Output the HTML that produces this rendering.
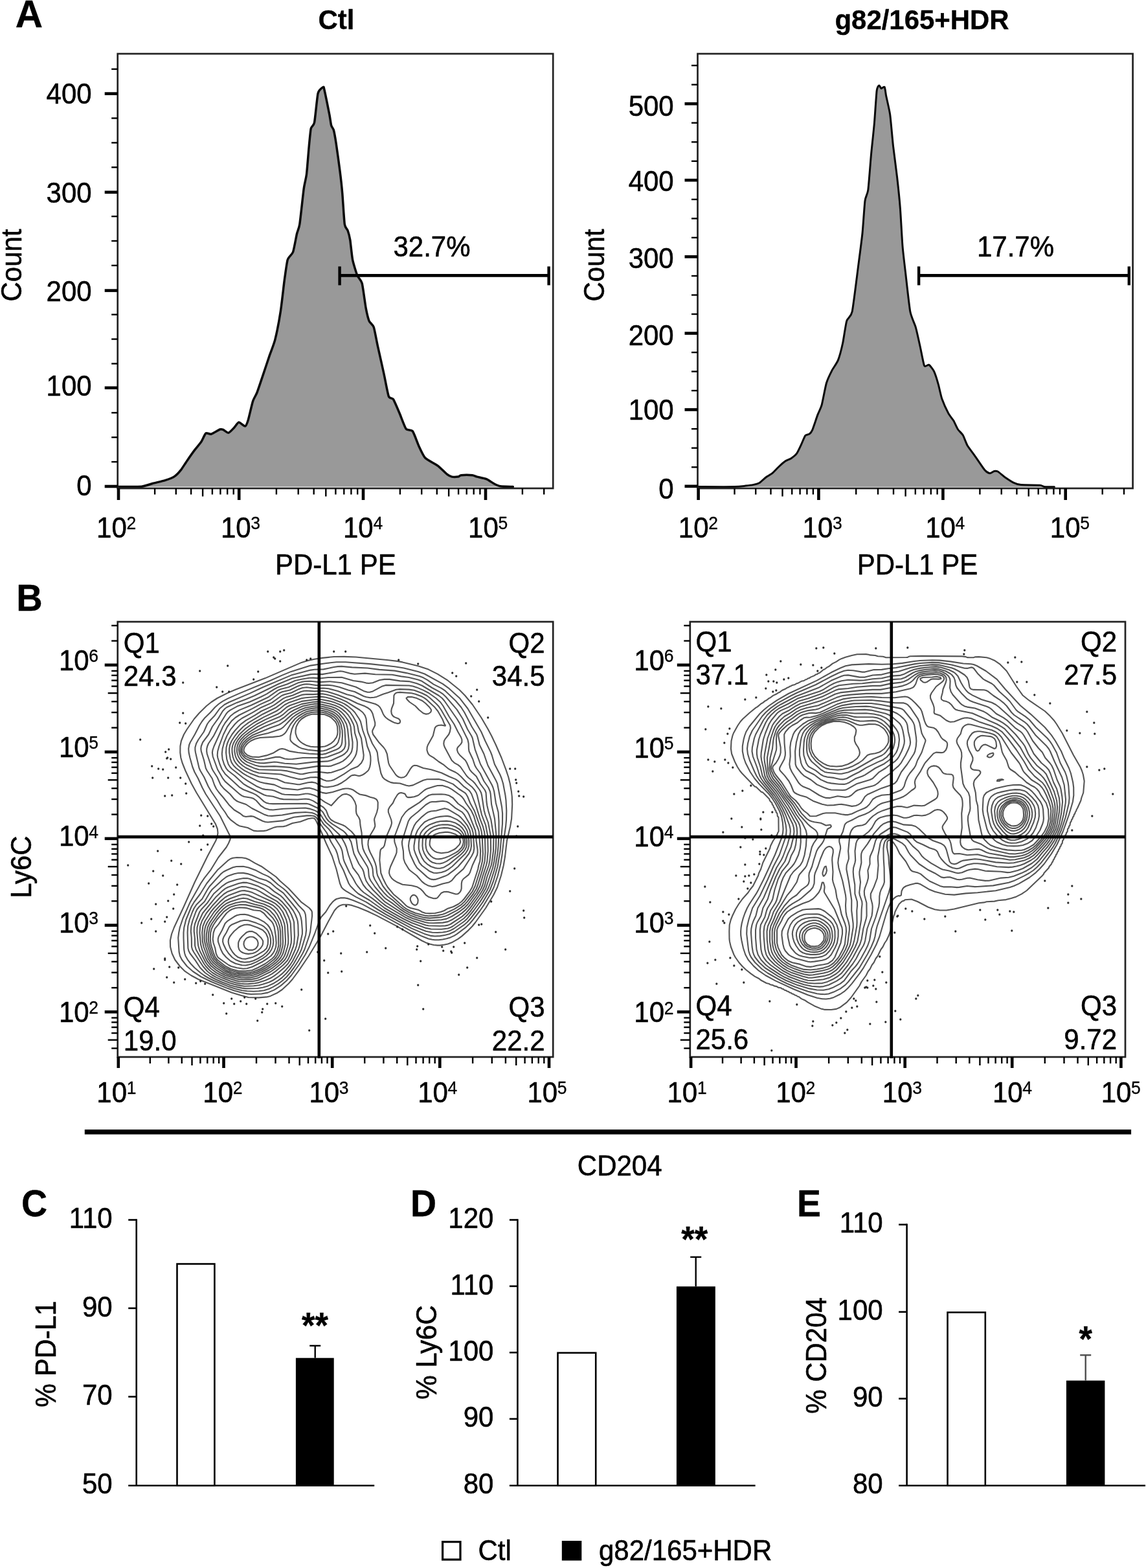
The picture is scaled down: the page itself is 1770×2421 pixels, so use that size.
<!DOCTYPE html>
<html lang="en">
<head>
<meta charset="utf-8">
<title>Figure</title>
<style>
html,body{margin:0;padding:0;background:#fff;}
body{width:1770px;height:2421px;overflow:hidden;}
svg{display:block;}
svg text{font-family:'Liberation Sans', Arial, Helvetica, sans-serif;fill:#000;stroke:#000;stroke-width:0.55px;stroke-linejoin:round;}
svg text[font-weight]{stroke-width:0.35px;}
svg tspan{stroke-width:0.3px;}
</style>
</head>
<body>
<svg width="1770" height="2421" viewBox="0 0 1770 2421">
<rect width="1770" height="2421" fill="#fff"/>
<text transform="translate(23.8 42.2) scale(1 1.0)" font-size="58.5" font-weight="bold">A</text>
<path d="M182 751.4 C185.7 751.4 213.2 751.7 218.6 751.2 C224 750.7 232 747.5 235.6 746.5 C239.2 745.5 251.6 742.7 255 741.6 C258.4 740.5 267.1 737.2 269.5 735.6 C271.9 734 277.3 728.3 279.2 725.9 C281.1 723.5 286.7 714.5 288.9 711.4 C291.1 708.2 298.8 697.3 301 694.4 C303.2 691.5 309 684.8 310.7 682.3 C312.4 679.8 316.3 670.2 317.9 669 C319.5 667.8 324.2 670.8 326.4 670.2 C328.6 669.6 337.9 663.7 339.7 663 C341.5 662.3 343.3 662.9 344.6 663.4 C345.9 663.9 351.3 668.6 353 668.3 C354.7 668 359.9 662.1 361.5 660.5 C363.1 658.9 367.1 652.3 368.8 652.1 C370.5 651.9 377.1 658.5 378.5 658.1 C379.9 657.7 382.1 652.3 383.3 648.4 C384.5 644.5 389.2 623.6 390.6 619.4 C392 615.2 395.4 610.1 397 606 C398.6 601.9 404.7 583.6 406.6 577.9 C408.5 572.2 414.5 554.2 416.3 548.9 C418.1 543.6 423.1 531.4 424.8 524.6 C426.5 517.8 431.9 490.2 433.3 481 C434.8 471.8 438.2 440.6 439.3 432.6 C440.4 424.6 442.9 405.6 444.2 401.2 C445.5 396.8 451.2 393 452.6 389 C454 385 457.5 365.3 458.5 361 C459.5 356.7 461.7 353.3 462.8 346.3 C463.9 339.3 468.2 298.4 469.3 290.7 C470.4 283 472.7 275.4 473.5 268.9 C474.3 262.4 476.6 232.3 477.3 225.3 C478 218.3 479.4 202.2 480.2 198.6 C481 195 484.5 194.4 485.6 189 C486.7 183.6 489.8 149.6 491.1 144.2 C492.5 138.8 498.1 135.1 499.1 134.5 C500.1 133.9 499.8 133.8 500.8 138 C501.8 142.2 507.7 171.3 508.8 176.9 C509.9 182.5 511 191.4 511.7 193.8 C512.4 196.2 514.7 198.3 515.4 201 C516.1 203.7 518 214.1 519 220.4 C520 226.7 524 256.2 525 264 C526 271.8 528 289.7 528.7 297.9 C529.4 306.1 531.5 340.5 532.3 346.3 C533.1 352.1 536.2 353.6 537.1 356 C538 358.4 540 366.1 540.8 370.6 C541.5 375.1 543.5 395.7 544.6 401.2 C545.7 406.7 550.4 421.8 551.9 425.4 C553.4 429 557.9 432.4 559.2 437.5 C560.5 442.6 564.1 470.4 565.2 476.2 C566.3 482 568.9 492.7 570.1 495.6 C571.3 498.5 576 501.4 577.3 505.3 C578.6 509.2 581.8 527 583.4 534.3 C585 541.6 591.4 570.1 593.1 577.9 C594.8 585.6 598.8 607.9 600.3 611.8 C601.8 615.7 605.9 614 607.6 616.7 C609.3 619.4 615.4 634 617.3 638.5 C619.2 643 625 659.3 627 662 C629 664.7 635.4 663.2 637.4 665.9 C639.4 668.6 645.1 684.8 647 688.9 C648.9 693 653.8 704 656.7 707 C659.6 710 672.7 716.6 676.1 719.1 C679.5 721.6 688.4 730.7 690.6 732.4 C692.8 734.1 696.2 735.7 697.9 736.1 C699.6 736.5 706.1 736.3 707.6 736.1 C709.1 735.9 710.2 733.9 712.4 733.7 C714.6 733.5 727 733.5 729.4 733.7 C731.8 733.9 734.4 735.5 736.6 736.1 C738.8 736.7 748.5 738.6 751.2 739.7 C753.9 740.8 761.1 745.9 763.3 747 C765.5 748.1 770.1 750.3 773 750.8 C775.9 751.3 790.4 751.5 792.3 751.6 Z" fill="#999" stroke="none"/><path d="M182 751.4 C185.7 751.4 213.2 751.7 218.6 751.2 C224 750.7 232 747.5 235.6 746.5 C239.2 745.5 251.6 742.7 255 741.6 C258.4 740.5 267.1 737.2 269.5 735.6 C271.9 734 277.3 728.3 279.2 725.9 C281.1 723.5 286.7 714.5 288.9 711.4 C291.1 708.2 298.8 697.3 301 694.4 C303.2 691.5 309 684.8 310.7 682.3 C312.4 679.8 316.3 670.2 317.9 669 C319.5 667.8 324.2 670.8 326.4 670.2 C328.6 669.6 337.9 663.7 339.7 663 C341.5 662.3 343.3 662.9 344.6 663.4 C345.9 663.9 351.3 668.6 353 668.3 C354.7 668 359.9 662.1 361.5 660.5 C363.1 658.9 367.1 652.3 368.8 652.1 C370.5 651.9 377.1 658.5 378.5 658.1 C379.9 657.7 382.1 652.3 383.3 648.4 C384.5 644.5 389.2 623.6 390.6 619.4 C392 615.2 395.4 610.1 397 606 C398.6 601.9 404.7 583.6 406.6 577.9 C408.5 572.2 414.5 554.2 416.3 548.9 C418.1 543.6 423.1 531.4 424.8 524.6 C426.5 517.8 431.9 490.2 433.3 481 C434.8 471.8 438.2 440.6 439.3 432.6 C440.4 424.6 442.9 405.6 444.2 401.2 C445.5 396.8 451.2 393 452.6 389 C454 385 457.5 365.3 458.5 361 C459.5 356.7 461.7 353.3 462.8 346.3 C463.9 339.3 468.2 298.4 469.3 290.7 C470.4 283 472.7 275.4 473.5 268.9 C474.3 262.4 476.6 232.3 477.3 225.3 C478 218.3 479.4 202.2 480.2 198.6 C481 195 484.5 194.4 485.6 189 C486.7 183.6 489.8 149.6 491.1 144.2 C492.5 138.8 498.1 135.1 499.1 134.5 C500.1 133.9 499.8 133.8 500.8 138 C501.8 142.2 507.7 171.3 508.8 176.9 C509.9 182.5 511 191.4 511.7 193.8 C512.4 196.2 514.7 198.3 515.4 201 C516.1 203.7 518 214.1 519 220.4 C520 226.7 524 256.2 525 264 C526 271.8 528 289.7 528.7 297.9 C529.4 306.1 531.5 340.5 532.3 346.3 C533.1 352.1 536.2 353.6 537.1 356 C538 358.4 540 366.1 540.8 370.6 C541.5 375.1 543.5 395.7 544.6 401.2 C545.7 406.7 550.4 421.8 551.9 425.4 C553.4 429 557.9 432.4 559.2 437.5 C560.5 442.6 564.1 470.4 565.2 476.2 C566.3 482 568.9 492.7 570.1 495.6 C571.3 498.5 576 501.4 577.3 505.3 C578.6 509.2 581.8 527 583.4 534.3 C585 541.6 591.4 570.1 593.1 577.9 C594.8 585.6 598.8 607.9 600.3 611.8 C601.8 615.7 605.9 614 607.6 616.7 C609.3 619.4 615.4 634 617.3 638.5 C619.2 643 625 659.3 627 662 C629 664.7 635.4 663.2 637.4 665.9 C639.4 668.6 645.1 684.8 647 688.9 C648.9 693 653.8 704 656.7 707 C659.6 710 672.7 716.6 676.1 719.1 C679.5 721.6 688.4 730.7 690.6 732.4 C692.8 734.1 696.2 735.7 697.9 736.1 C699.6 736.5 706.1 736.3 707.6 736.1 C709.1 735.9 710.2 733.9 712.4 733.7 C714.6 733.5 727 733.5 729.4 733.7 C731.8 733.9 734.4 735.5 736.6 736.1 C738.8 736.7 748.5 738.6 751.2 739.7 C753.9 740.8 761.1 745.9 763.3 747 C765.5 748.1 770.1 750.3 773 750.8 C775.9 751.3 790.4 751.5 792.3 751.6" fill="none" stroke="#0a0a0a" stroke-width="3.5" stroke-linejoin="round" stroke-linecap="round"/>
<rect x="181.7" y="83" width="672.5" height="671" fill="none" stroke="#222" stroke-width="2.7"/>
<line x1="161.7" y1="751" x2="181.7" y2="751" stroke="#000" stroke-width="4.6"/>
<line x1="161.7" y1="598.8" x2="181.7" y2="598.8" stroke="#000" stroke-width="4.6"/>
<line x1="161.7" y1="448.6" x2="181.7" y2="448.6" stroke="#000" stroke-width="4.6"/>
<line x1="161.7" y1="296.8" x2="181.7" y2="296.8" stroke="#000" stroke-width="4.6"/>
<line x1="161.7" y1="144.6" x2="181.7" y2="144.6" stroke="#000" stroke-width="4.6"/>
<line x1="172.2" y1="713.1" x2="181.7" y2="713.1" stroke="#000" stroke-width="2.4"/>
<line x1="172.2" y1="675.2" x2="181.7" y2="675.2" stroke="#000" stroke-width="2.4"/>
<line x1="172.2" y1="637.3" x2="181.7" y2="637.3" stroke="#000" stroke-width="2.4"/>
<line x1="172.2" y1="561.5" x2="181.7" y2="561.5" stroke="#000" stroke-width="2.4"/>
<line x1="172.2" y1="523.6" x2="181.7" y2="523.6" stroke="#000" stroke-width="2.4"/>
<line x1="172.2" y1="485.7" x2="181.7" y2="485.7" stroke="#000" stroke-width="2.4"/>
<line x1="172.2" y1="409.9" x2="181.7" y2="409.9" stroke="#000" stroke-width="2.4"/>
<line x1="172.2" y1="372" x2="181.7" y2="372" stroke="#000" stroke-width="2.4"/>
<line x1="172.2" y1="334.1" x2="181.7" y2="334.1" stroke="#000" stroke-width="2.4"/>
<line x1="172.2" y1="258.3" x2="181.7" y2="258.3" stroke="#000" stroke-width="2.4"/>
<line x1="172.2" y1="220.4" x2="181.7" y2="220.4" stroke="#000" stroke-width="2.4"/>
<line x1="172.2" y1="182.5" x2="181.7" y2="182.5" stroke="#000" stroke-width="2.4"/>
<line x1="172.2" y1="106.7" x2="181.7" y2="106.7" stroke="#000" stroke-width="2.4"/>
<text transform="translate(141.6 159.7) scale(1 1.042)" font-size="42" text-anchor="end">400</text>
<text transform="translate(141.6 312.7) scale(1 1.042)" font-size="42" text-anchor="end">300</text>
<text transform="translate(141.6 464.6) scale(1 1.042)" font-size="42" text-anchor="end">200</text>
<text transform="translate(141.6 610.9) scale(1 1.042)" font-size="42" text-anchor="end">100</text>
<text transform="translate(141.6 764.8) scale(1 1.042)" font-size="42" text-anchor="end">0</text>
<line x1="183" y1="754" x2="183" y2="772" stroke="#000" stroke-width="4.6"/>
<line x1="239.1" y1="754" x2="239.1" y2="763.5" stroke="#000" stroke-width="2.4"/>
<line x1="271.8" y1="754" x2="271.8" y2="763.5" stroke="#000" stroke-width="2.4"/>
<line x1="295.1" y1="754" x2="295.1" y2="763.5" stroke="#000" stroke-width="2.4"/>
<line x1="313.1" y1="754" x2="313.1" y2="766.5" stroke="#000" stroke-width="2.4"/>
<line x1="327.9" y1="754" x2="327.9" y2="763.5" stroke="#000" stroke-width="2.4"/>
<line x1="340.4" y1="754" x2="340.4" y2="763.5" stroke="#000" stroke-width="2.4"/>
<line x1="351.2" y1="754" x2="351.2" y2="763.5" stroke="#000" stroke-width="2.4"/>
<line x1="360.7" y1="754" x2="360.7" y2="763.5" stroke="#000" stroke-width="2.4"/>
<line x1="369.2" y1="754" x2="369.2" y2="772" stroke="#000" stroke-width="4.6"/>
<line x1="426.9" y1="754" x2="426.9" y2="763.5" stroke="#000" stroke-width="2.4"/>
<line x1="460.7" y1="754" x2="460.7" y2="763.5" stroke="#000" stroke-width="2.4"/>
<line x1="484.7" y1="754" x2="484.7" y2="763.5" stroke="#000" stroke-width="2.4"/>
<line x1="503.3" y1="754" x2="503.3" y2="766.5" stroke="#000" stroke-width="2.4"/>
<line x1="518.4" y1="754" x2="518.4" y2="763.5" stroke="#000" stroke-width="2.4"/>
<line x1="531.3" y1="754" x2="531.3" y2="763.5" stroke="#000" stroke-width="2.4"/>
<line x1="542.4" y1="754" x2="542.4" y2="763.5" stroke="#000" stroke-width="2.4"/>
<line x1="552.2" y1="754" x2="552.2" y2="763.5" stroke="#000" stroke-width="2.4"/>
<line x1="561" y1="754" x2="561" y2="772" stroke="#000" stroke-width="4.6"/>
<line x1="617.9" y1="754" x2="617.9" y2="763.5" stroke="#000" stroke-width="2.4"/>
<line x1="651.2" y1="754" x2="651.2" y2="763.5" stroke="#000" stroke-width="2.4"/>
<line x1="674.8" y1="754" x2="674.8" y2="763.5" stroke="#000" stroke-width="2.4"/>
<line x1="693.1" y1="754" x2="693.1" y2="766.5" stroke="#000" stroke-width="2.4"/>
<line x1="708.1" y1="754" x2="708.1" y2="763.5" stroke="#000" stroke-width="2.4"/>
<line x1="720.7" y1="754" x2="720.7" y2="763.5" stroke="#000" stroke-width="2.4"/>
<line x1="731.7" y1="754" x2="731.7" y2="763.5" stroke="#000" stroke-width="2.4"/>
<line x1="741.4" y1="754" x2="741.4" y2="763.5" stroke="#000" stroke-width="2.4"/>
<line x1="750" y1="754" x2="750" y2="772" stroke="#000" stroke-width="4.6"/>
<line x1="806.9" y1="754" x2="806.9" y2="763.5" stroke="#000" stroke-width="2.4"/>
<line x1="840.2" y1="754" x2="840.2" y2="763.5" stroke="#000" stroke-width="2.4"/>
<text transform="translate(149.1 830) scale(1 1.042)" font-size="42">10<tspan font-size="26.5" dy="-12.3" dx="-0.3">2</tspan></text>
<text transform="translate(340.9 830) scale(1 1.042)" font-size="42">10<tspan font-size="26.5" dy="-12.3" dx="-0.3">3</tspan></text>
<text transform="translate(530 830) scale(1 1.042)" font-size="42">10<tspan font-size="26.5" dy="-12.3" dx="-0.3">4</tspan></text>
<text transform="translate(723.1 830) scale(1 1.042)" font-size="42">10<tspan font-size="26.5" dy="-12.3" dx="-0.3">5</tspan></text>
<text transform="translate(519.5 44.9) scale(1 1.01)" font-size="41.9" text-anchor="middle" font-weight="bold">Ctl</text>
<text transform="translate(518.3 886.6) scale(1 1.042)" font-size="42" text-anchor="middle">PD-L1 PE</text>
<text transform="translate(33.3 409.5) rotate(-90) scale(1 1.042)" font-size="42" text-anchor="middle">Count</text>
<line x1="524.6" y1="425.4" x2="847.6" y2="425.4" stroke="#000" stroke-width="4.6"/>
<line x1="524.6" y1="411.4" x2="524.6" y2="440.4" stroke="#000" stroke-width="4.4"/>
<line x1="847.6" y1="411.4" x2="847.6" y2="440.4" stroke="#000" stroke-width="4.4"/>
<text transform="translate(667 396.3) scale(1 1.042)" font-size="42" text-anchor="middle">32.7%</text>
<path d="M1078 751.6 C1083.7 751.6 1127.3 751.8 1134.7 751.6 C1142.1 751.5 1148.8 750.4 1151.7 750.1 C1154.6 749.8 1161.6 748.9 1163.8 748.4 C1166 747.9 1171.6 746.4 1173.5 745.2 C1175.4 744 1181.3 738.2 1183.2 736.8 C1185.1 735.3 1191 732.3 1192.9 730.7 C1194.8 729.1 1200.6 722.8 1202.5 721 C1204.4 719.2 1210.3 713.8 1212.2 712.5 C1214.1 711.2 1220.1 708.9 1221.9 707.7 C1223.7 706.5 1228.8 702.6 1230.4 700.4 C1232 698.2 1236.4 688.7 1237.7 685.9 C1239 683.1 1242.5 674.2 1243.7 672.6 C1244.9 671 1248.7 671.1 1249.8 670.2 C1250.9 669.4 1253.3 667.1 1254.6 664.1 C1255.9 661.1 1261.6 643.8 1263.1 639.9 C1264.5 636 1267.8 630.2 1269.1 625.4 C1270.4 620.6 1274.8 596.8 1276.4 591.5 C1278 586.2 1283.1 575.6 1284.9 572.1 C1286.7 568.6 1292.7 560.4 1294.4 556.1 C1296.1 551.8 1300.4 535.5 1301.7 529.5 C1303 523.5 1306.2 500.5 1307.7 495.6 C1309.2 490.8 1314.4 489.7 1316.2 481 C1318 472.3 1324.3 420.5 1325.9 408.4 C1327.5 396.3 1331 369.8 1332 360 C1333 350.2 1335.1 316.7 1336 310 C1336.9 303.3 1339.8 300.4 1340.8 293.1 C1341.8 285.8 1344.6 247.8 1345.6 237.4 C1346.6 227 1349.7 198.7 1350.5 189 C1351.3 179.3 1353.4 146.2 1354.1 140.5 C1354.8 134.8 1357 132.4 1357.7 132 C1358.4 131.6 1360.2 136.2 1361 136.5 C1361.8 136.8 1365.4 133.4 1366.2 134.5 C1367 135.6 1367.8 143.6 1368.6 147.8 C1369.4 152 1373.6 169.2 1374.7 176.9 C1375.8 184.7 1378.4 215.6 1379.5 225.3 C1380.6 235 1384.5 264 1385.6 273.7 C1386.7 283.4 1389.6 311.5 1390.4 322.1 C1391.2 332.7 1393.2 370.2 1394 380 C1394.8 389.8 1397.3 410.4 1398.5 420.5 C1399.7 430.6 1404.2 472.5 1405.8 481 C1407.4 489.5 1412.7 499.7 1414.3 505.3 C1415.9 510.9 1420.2 530.8 1421.5 536.7 C1422.8 542.6 1426.3 561.9 1427.6 564.6 C1428.9 567.3 1433.4 562.5 1434.9 563.4 C1436.4 564.3 1441.2 570.4 1442.6 573.4 C1444 576.4 1448.1 589.3 1449.3 593.6 C1450.5 597.9 1453.3 611.5 1454.9 616 C1456.5 620.5 1463.1 635 1464.9 638.4 C1466.7 641.8 1471.3 647.1 1472.8 649.6 C1474.3 652.1 1478 660.8 1479.5 663 C1481 665.2 1485.8 669.5 1487.3 672 C1488.8 674.5 1492.3 684.6 1494.1 687.7 C1495.9 690.8 1502.6 699.5 1505.3 703.3 C1508 707.1 1518.6 723 1520.9 725.7 C1523.2 728.4 1527.3 730.5 1528.8 730.7 C1530.3 730.9 1534.3 727.8 1535.5 727.5 C1536.7 727.2 1539.4 727.1 1541.1 728 C1542.8 728.9 1549.8 735.2 1552.3 736.9 C1554.8 738.6 1563.2 744.2 1565.7 745.4 C1568.2 746.6 1572.9 748.2 1576.9 748.6 C1580.9 749 1602.4 748.9 1606 749.2 C1609.6 749.5 1610.6 751.1 1612.8 751.4 C1615 751.7 1626.8 751.8 1628.4 751.8 Z" fill="#999" stroke="none"/><path d="M1078 751.6 C1083.7 751.6 1127.3 751.8 1134.7 751.6 C1142.1 751.5 1148.8 750.4 1151.7 750.1 C1154.6 749.8 1161.6 748.9 1163.8 748.4 C1166 747.9 1171.6 746.4 1173.5 745.2 C1175.4 744 1181.3 738.2 1183.2 736.8 C1185.1 735.3 1191 732.3 1192.9 730.7 C1194.8 729.1 1200.6 722.8 1202.5 721 C1204.4 719.2 1210.3 713.8 1212.2 712.5 C1214.1 711.2 1220.1 708.9 1221.9 707.7 C1223.7 706.5 1228.8 702.6 1230.4 700.4 C1232 698.2 1236.4 688.7 1237.7 685.9 C1239 683.1 1242.5 674.2 1243.7 672.6 C1244.9 671 1248.7 671.1 1249.8 670.2 C1250.9 669.4 1253.3 667.1 1254.6 664.1 C1255.9 661.1 1261.6 643.8 1263.1 639.9 C1264.5 636 1267.8 630.2 1269.1 625.4 C1270.4 620.6 1274.8 596.8 1276.4 591.5 C1278 586.2 1283.1 575.6 1284.9 572.1 C1286.7 568.6 1292.7 560.4 1294.4 556.1 C1296.1 551.8 1300.4 535.5 1301.7 529.5 C1303 523.5 1306.2 500.5 1307.7 495.6 C1309.2 490.8 1314.4 489.7 1316.2 481 C1318 472.3 1324.3 420.5 1325.9 408.4 C1327.5 396.3 1331 369.8 1332 360 C1333 350.2 1335.1 316.7 1336 310 C1336.9 303.3 1339.8 300.4 1340.8 293.1 C1341.8 285.8 1344.6 247.8 1345.6 237.4 C1346.6 227 1349.7 198.7 1350.5 189 C1351.3 179.3 1353.4 146.2 1354.1 140.5 C1354.8 134.8 1357 132.4 1357.7 132 C1358.4 131.6 1360.2 136.2 1361 136.5 C1361.8 136.8 1365.4 133.4 1366.2 134.5 C1367 135.6 1367.8 143.6 1368.6 147.8 C1369.4 152 1373.6 169.2 1374.7 176.9 C1375.8 184.7 1378.4 215.6 1379.5 225.3 C1380.6 235 1384.5 264 1385.6 273.7 C1386.7 283.4 1389.6 311.5 1390.4 322.1 C1391.2 332.7 1393.2 370.2 1394 380 C1394.8 389.8 1397.3 410.4 1398.5 420.5 C1399.7 430.6 1404.2 472.5 1405.8 481 C1407.4 489.5 1412.7 499.7 1414.3 505.3 C1415.9 510.9 1420.2 530.8 1421.5 536.7 C1422.8 542.6 1426.3 561.9 1427.6 564.6 C1428.9 567.3 1433.4 562.5 1434.9 563.4 C1436.4 564.3 1441.2 570.4 1442.6 573.4 C1444 576.4 1448.1 589.3 1449.3 593.6 C1450.5 597.9 1453.3 611.5 1454.9 616 C1456.5 620.5 1463.1 635 1464.9 638.4 C1466.7 641.8 1471.3 647.1 1472.8 649.6 C1474.3 652.1 1478 660.8 1479.5 663 C1481 665.2 1485.8 669.5 1487.3 672 C1488.8 674.5 1492.3 684.6 1494.1 687.7 C1495.9 690.8 1502.6 699.5 1505.3 703.3 C1508 707.1 1518.6 723 1520.9 725.7 C1523.2 728.4 1527.3 730.5 1528.8 730.7 C1530.3 730.9 1534.3 727.8 1535.5 727.5 C1536.7 727.2 1539.4 727.1 1541.1 728 C1542.8 728.9 1549.8 735.2 1552.3 736.9 C1554.8 738.6 1563.2 744.2 1565.7 745.4 C1568.2 746.6 1572.9 748.2 1576.9 748.6 C1580.9 749 1602.4 748.9 1606 749.2 C1609.6 749.5 1610.6 751.1 1612.8 751.4 C1615 751.7 1626.8 751.8 1628.4 751.8" fill="none" stroke="#0a0a0a" stroke-width="3.0" stroke-linejoin="round" stroke-linecap="round"/>
<rect x="1077.5" y="83" width="672.1" height="671" fill="none" stroke="#222" stroke-width="2.7"/>
<line x1="1057.5" y1="750.8" x2="1077.5" y2="750.8" stroke="#000" stroke-width="4.6"/>
<line x1="1057.5" y1="632.5" x2="1077.5" y2="632.5" stroke="#000" stroke-width="4.6"/>
<line x1="1057.5" y1="514.6" x2="1077.5" y2="514.6" stroke="#000" stroke-width="4.6"/>
<line x1="1057.5" y1="396.4" x2="1077.5" y2="396.4" stroke="#000" stroke-width="4.6"/>
<line x1="1057.5" y1="278.2" x2="1077.5" y2="278.2" stroke="#000" stroke-width="4.6"/>
<line x1="1057.5" y1="160.2" x2="1077.5" y2="160.2" stroke="#000" stroke-width="4.6"/>
<line x1="1068" y1="721.3" x2="1077.5" y2="721.3" stroke="#000" stroke-width="2.4"/>
<line x1="1068" y1="691.7" x2="1077.5" y2="691.7" stroke="#000" stroke-width="2.4"/>
<line x1="1068" y1="662.2" x2="1077.5" y2="662.2" stroke="#000" stroke-width="2.4"/>
<line x1="1068" y1="603.1" x2="1077.5" y2="603.1" stroke="#000" stroke-width="2.4"/>
<line x1="1068" y1="573.6" x2="1077.5" y2="573.6" stroke="#000" stroke-width="2.4"/>
<line x1="1068" y1="544.1" x2="1077.5" y2="544.1" stroke="#000" stroke-width="2.4"/>
<line x1="1068" y1="485" x2="1077.5" y2="485" stroke="#000" stroke-width="2.4"/>
<line x1="1068" y1="455.5" x2="1077.5" y2="455.5" stroke="#000" stroke-width="2.4"/>
<line x1="1068" y1="426" x2="1077.5" y2="426" stroke="#000" stroke-width="2.4"/>
<line x1="1068" y1="366.9" x2="1077.5" y2="366.9" stroke="#000" stroke-width="2.4"/>
<line x1="1068" y1="337.4" x2="1077.5" y2="337.4" stroke="#000" stroke-width="2.4"/>
<line x1="1068" y1="307.9" x2="1077.5" y2="307.9" stroke="#000" stroke-width="2.4"/>
<line x1="1068" y1="248.8" x2="1077.5" y2="248.8" stroke="#000" stroke-width="2.4"/>
<line x1="1068" y1="219.3" x2="1077.5" y2="219.3" stroke="#000" stroke-width="2.4"/>
<line x1="1068" y1="189.7" x2="1077.5" y2="189.7" stroke="#000" stroke-width="2.4"/>
<line x1="1068" y1="130.7" x2="1077.5" y2="130.7" stroke="#000" stroke-width="2.4"/>
<line x1="1068" y1="101.1" x2="1077.5" y2="101.1" stroke="#000" stroke-width="2.4"/>
<text transform="translate(1040.7 179.3) scale(1 1.042)" font-size="42" text-anchor="end">500</text>
<text transform="translate(1040.7 295) scale(1 1.042)" font-size="42" text-anchor="end">400</text>
<text transform="translate(1040.7 413.6) scale(1 1.042)" font-size="42" text-anchor="end">300</text>
<text transform="translate(1040.7 533.2) scale(1 1.042)" font-size="42" text-anchor="end">200</text>
<text transform="translate(1040.7 648.2) scale(1 1.042)" font-size="42" text-anchor="end">100</text>
<text transform="translate(1040.7 770.4) scale(1 1.042)" font-size="42" text-anchor="end">0</text>
<line x1="1078.6" y1="754" x2="1078.6" y2="772" stroke="#000" stroke-width="4.6"/>
<line x1="1134.5" y1="754" x2="1134.5" y2="763.5" stroke="#000" stroke-width="2.4"/>
<line x1="1167.2" y1="754" x2="1167.2" y2="763.5" stroke="#000" stroke-width="2.4"/>
<line x1="1190.5" y1="754" x2="1190.5" y2="763.5" stroke="#000" stroke-width="2.4"/>
<line x1="1208.5" y1="754" x2="1208.5" y2="766.5" stroke="#000" stroke-width="2.4"/>
<line x1="1223.2" y1="754" x2="1223.2" y2="763.5" stroke="#000" stroke-width="2.4"/>
<line x1="1235.6" y1="754" x2="1235.6" y2="763.5" stroke="#000" stroke-width="2.4"/>
<line x1="1246.4" y1="754" x2="1246.4" y2="763.5" stroke="#000" stroke-width="2.4"/>
<line x1="1255.9" y1="754" x2="1255.9" y2="763.5" stroke="#000" stroke-width="2.4"/>
<line x1="1264.4" y1="754" x2="1264.4" y2="772" stroke="#000" stroke-width="4.6"/>
<line x1="1322.2" y1="754" x2="1322.2" y2="763.5" stroke="#000" stroke-width="2.4"/>
<line x1="1356" y1="754" x2="1356" y2="763.5" stroke="#000" stroke-width="2.4"/>
<line x1="1380" y1="754" x2="1380" y2="763.5" stroke="#000" stroke-width="2.4"/>
<line x1="1398.6" y1="754" x2="1398.6" y2="766.5" stroke="#000" stroke-width="2.4"/>
<line x1="1413.8" y1="754" x2="1413.8" y2="763.5" stroke="#000" stroke-width="2.4"/>
<line x1="1426.7" y1="754" x2="1426.7" y2="763.5" stroke="#000" stroke-width="2.4"/>
<line x1="1437.8" y1="754" x2="1437.8" y2="763.5" stroke="#000" stroke-width="2.4"/>
<line x1="1447.6" y1="754" x2="1447.6" y2="763.5" stroke="#000" stroke-width="2.4"/>
<line x1="1456.4" y1="754" x2="1456.4" y2="772" stroke="#000" stroke-width="4.6"/>
<line x1="1513.4" y1="754" x2="1513.4" y2="763.5" stroke="#000" stroke-width="2.4"/>
<line x1="1546.7" y1="754" x2="1546.7" y2="763.5" stroke="#000" stroke-width="2.4"/>
<line x1="1570.4" y1="754" x2="1570.4" y2="763.5" stroke="#000" stroke-width="2.4"/>
<line x1="1588.7" y1="754" x2="1588.7" y2="766.5" stroke="#000" stroke-width="2.4"/>
<line x1="1603.7" y1="754" x2="1603.7" y2="763.5" stroke="#000" stroke-width="2.4"/>
<line x1="1616.4" y1="754" x2="1616.4" y2="763.5" stroke="#000" stroke-width="2.4"/>
<line x1="1627.4" y1="754" x2="1627.4" y2="763.5" stroke="#000" stroke-width="2.4"/>
<line x1="1637" y1="754" x2="1637" y2="763.5" stroke="#000" stroke-width="2.4"/>
<line x1="1645.7" y1="754" x2="1645.7" y2="772" stroke="#000" stroke-width="4.6"/>
<line x1="1702.7" y1="754" x2="1702.7" y2="763.5" stroke="#000" stroke-width="2.4"/>
<line x1="1736" y1="754" x2="1736" y2="763.5" stroke="#000" stroke-width="2.4"/>
<text transform="translate(1047.8 830) scale(1 1.042)" font-size="42">10<tspan font-size="26.5" dy="-12.3" dx="-0.3">2</tspan></text>
<text transform="translate(1239.6 830) scale(1 1.042)" font-size="42">10<tspan font-size="26.5" dy="-12.3" dx="-0.3">3</tspan></text>
<text transform="translate(1429.2 830) scale(1 1.042)" font-size="42">10<tspan font-size="26.5" dy="-12.3" dx="-0.3">4</tspan></text>
<text transform="translate(1621.8 830) scale(1 1.042)" font-size="42">10<tspan font-size="26.5" dy="-12.3" dx="-0.3">5</tspan></text>
<text transform="translate(1424 44.9) scale(1 1.01)" font-size="41.9" text-anchor="middle" font-weight="bold">g82/165+HDR</text>
<text transform="translate(1417 886.6) scale(1 1.042)" font-size="42" text-anchor="middle">PD-L1 PE</text>
<text transform="translate(932.6 409.5) rotate(-90) scale(1 1.042)" font-size="42" text-anchor="middle">Count</text>
<line x1="1419.1" y1="425.4" x2="1743.8" y2="425.4" stroke="#000" stroke-width="4.6"/>
<line x1="1419.1" y1="411.4" x2="1419.1" y2="440.4" stroke="#000" stroke-width="4.4"/>
<line x1="1743.8" y1="411.4" x2="1743.8" y2="440.4" stroke="#000" stroke-width="4.4"/>
<text transform="translate(1568.5 396.3) scale(1 1.042)" font-size="42" text-anchor="middle">17.7%</text>
<path d="M515.8,1014L531.7,1013.9L549.7,1014.5L597.7,1019L613.7,1020.9L621.7,1022.4L645.7,1028.3L661.7,1033.6L675.7,1040.6L691.7,1050.7L709.7,1065.3L718.3,1074L729.8,1088L743.3,1108L753.8,1126L759.1,1136L765.8,1150L774.5,1170L781.7,1189.1L785.3,1200L787.8,1210L789.9,1222L790.8,1230L791.2,1242L790.1,1264L788.1,1276L782.9,1298L780.1,1322L777.8,1336L773.9,1352L768.1,1370L762.2,1382L750.2,1402L734.4,1424L729.6,1430L723.7,1436.1L713.7,1445.1L707.7,1449.7L697.7,1455.3L691.7,1457.4L685.7,1458.8L679.7,1459.6L675.7,1459.6L669.7,1459L663.7,1457.6L657.7,1455.4L651.7,1452.5L611.7,1429.4L581.7,1413.6L567.7,1407L553.7,1401.3L543.7,1397.9L537.7,1396.7L529.7,1396.8L525.7,1397.9L522.2,1400L519.7,1402.2L516.5,1406L507.5,1422L495,1446L476.8,1476L461.7,1498.4L451.7,1512L445.7,1518.7L435.7,1528L427.7,1533.3L417.7,1537.9L411.7,1539.4L399.7,1540.4L383.7,1540L371.7,1536.8L357.7,1532.4L306.2,1512L295.1,1506L285.7,1499.7L277.9,1492L270.3,1482L265.6,1472L263.1,1462L262.9,1452L265.1,1442L268.9,1432L283.8,1400L300.8,1362L320.5,1322L333.3,1298L335.6,1292L336.5,1286L335.9,1280L332.8,1272L303.5,1224L295.8,1210L286.4,1190L281.6,1178L279.3,1170L278.3,1162L278.4,1152L279.9,1144L284,1134L288.8,1126L299.9,1110L307.7,1101L318.9,1090L326.4,1084L335.6,1078L351.7,1069.9L363.7,1064.7L409.7,1047.1L465.7,1022.9L473.7,1020.4L485.7,1017.8L497.7,1015.9ZM504,1024L519.7,1022.3L533.7,1022.3L571.7,1025.1L609.7,1029.2L623.7,1031.5L645.7,1037L655.7,1040.5L683.7,1055.9L693.7,1063.2L709.7,1077.7L722.4,1094L743.3,1130L749.4,1144L757.7,1160.9L759.7,1166L763.9,1180L772.3,1196L774.7,1202L777.1,1210L780.5,1228L781.5,1236L782.3,1252L782,1266L781.1,1276L778.1,1296L775.5,1320L773.2,1334L768.8,1352L762.7,1370L757.8,1380L747.7,1396.8L741.4,1406L730.6,1420L725.5,1426L719.7,1431.6L705.7,1442.1L701.7,1444.6L695.7,1447.4L689.7,1449.2L683.7,1450.5L677.7,1451.2L671.7,1451.2L667.7,1450.8L661.7,1449.4L651.7,1445.6L635.7,1437.8L559.7,1396.1L545.7,1390.2L537.7,1387.4L531.7,1386.3L525.7,1386.4L519.7,1388L516.6,1390L513.7,1392.6L509.3,1398L503.2,1408L496,1416L493.1,1422L485.9,1442L477.7,1461.8L471.5,1474L461.5,1490L449.9,1506L442.8,1514L433.7,1521.9L423.7,1528.4L413.7,1532.6L403.7,1534.5L387.7,1535L381.7,1534.4L373.7,1532.8L361.7,1529.5L351.7,1526.1L326.8,1516L310.3,1508L298.1,1500L288.9,1492L281,1482L278,1476L276.6,1470L275.2,1448L276.2,1440L277.8,1432L282.5,1418L293.7,1392.9L310.1,1364L315.7,1355.6L325.7,1342.8L337.2,1324L349.7,1308L353,1302L355.5,1296L355.8,1294L354.9,1290L340,1260L317.7,1226L312.4,1216L306,1202L300.5,1192L297.3,1184L293.4,1170L291.6,1162L291.2,1156L292.2,1150L293.9,1146L300.9,1134L308.1,1120L311.9,1114L315.7,1109.1L324.9,1100L332.1,1092L337.7,1087L343.7,1082.9L351.7,1078.6L369.7,1070.6L417.7,1050.8L435.7,1042.6L449.7,1036.9L479.7,1027.6ZM515.7,1030L521.7,1029.1L527.7,1028.9L543.7,1030.4L567.7,1031.5L585.7,1033.9L609.7,1035.6L627.7,1039.1L647.7,1044.1L653.7,1046.3L659.7,1049.7L669.7,1056.6L681.7,1062.6L687.7,1066.7L703.7,1082L712.2,1092L717.3,1100L728.7,1122L736.2,1134L737.6,1138L740.6,1150L747.4,1164L753.6,1182L765.7,1204.4L768.2,1210L775.1,1246L776.1,1256L776,1272L772.5,1314L768.5,1338L762.2,1360L756.8,1374L745.7,1392.9L736.3,1406L726.9,1418L721.7,1423.8L717.7,1427.3L701.7,1438.5L693.7,1442.2L687.7,1443.8L679.7,1445.1L671.7,1445.5L665.7,1444.9L655.7,1441.9L635.7,1433.4L596.2,1412L583,1404L565.7,1392.9L549.7,1384.9L533.7,1375.3L529.7,1372.4L527.5,1370L525,1364L519.5,1342L513,1322L503.7,1302L496.1,1284L487.7,1266.4L485.7,1263.8L483.7,1263.2L481.7,1263.3L475.7,1264.3L463.7,1268.7L451.7,1271L441.7,1275.3L437.7,1276.1L427.7,1276.5L423.7,1277.4L411.7,1282.3L407.7,1282.9L397.7,1283.2L391.7,1282.6L382.6,1278L369.7,1275.2L365.7,1273L355.7,1265.3L351.7,1260.7L347.6,1254L341.7,1246L335.7,1236L326.2,1222L321.6,1214L315.3,1200L309.4,1190L307.6,1186L302,1162L301.4,1158L301.4,1154L303.1,1148L306.4,1142L314.8,1130L320.1,1118L322.9,1114L331.7,1104.7L339.4,1094L346.6,1088L353.7,1084.3L385.7,1070.6L405.7,1061.3L449.7,1042.6L479.7,1034.6L485.7,1033.8L499.7,1033.4ZM356,1326L359.7,1324.7L365.7,1324L373.7,1324.3L379.7,1325.3L385.7,1327.8L393.7,1332.6L403.7,1337.7L426.5,1354L432.3,1360L445.7,1371.8L465.7,1393.2L477.8,1402L481.1,1406L481.9,1408L482.1,1414L479.3,1438L477.9,1444L470.4,1466L467.5,1472L460.6,1484L454,1494L448,1502L442.9,1508L437.7,1513L429.7,1519.1L421.7,1523.9L415.7,1526.7L407.7,1529.2L399.7,1530.3L391.7,1530.7L381.7,1530.3L373.7,1529.2L363.7,1526.7L353.7,1523.6L330,1514L321.9,1510L315.2,1506L309.7,1502L300.3,1494L294.6,1488L289.7,1481.6L286.5,1476L285.2,1472L284.2,1466L283.5,1448L283.5,1440L284.3,1432L287.3,1420L295.6,1400L299.7,1393L309.4,1380L319.3,1364L335.7,1343.6L351.7,1328.9ZM515.8,1038L521.7,1036.7L525.7,1036.3L529.7,1036.8L541.7,1039.9L547.7,1040.7L563.7,1039.6L579.7,1041.2L605.7,1041.8L619.7,1044.4L631.7,1046L645.7,1049.6L651.7,1051.8L667.4,1062L679.7,1068.6L683.7,1071.3L688.7,1076L705.7,1095.6L714.8,1110L722.1,1126L728.1,1136L729.7,1139.5L733.7,1157.1L742.1,1180L759.8,1212L761.5,1216L763.2,1222L765.9,1240L769.6,1254L770.5,1268L770.5,1288L769.6,1306L768.5,1318L765.4,1336L763.3,1344L756.9,1364L754.7,1370L751.8,1376L741.7,1392.1L731.6,1406L721.7,1418.2L717.7,1422L713.7,1425L700.7,1434L695.7,1436.7L689.7,1438.5L683.7,1439.5L675.7,1440L667.7,1439.8L657.7,1437.7L637.7,1430L618.1,1420L591.7,1405L570.7,1390L553.5,1380L549,1376L541.2,1368L538.6,1364L530.6,1344L524.4,1332L520.9,1318L518.6,1312L511.3,1300L504.8,1286L495.7,1273.6L491.3,1266L488.3,1262L485.7,1260.3L483.7,1259.7L479.7,1259.2L473.7,1259.4L453.7,1261.8L437.7,1267.1L413.7,1269.5L409.7,1269L405.7,1267.8L391.7,1260.8L387.7,1260.1L379.7,1261L375.7,1259.9L370.9,1256L361.7,1250.5L353.7,1242.7L345.4,1232L337.7,1223L334.1,1218L331.2,1212L327.7,1202L319.8,1190L317.8,1186L315.1,1174L310.8,1160L310.3,1156L310.8,1152L313.2,1146L322.2,1134L327.9,1122L337.7,1108.4L343.9,1098L347.6,1094L350.4,1092L365.7,1084.9L379.7,1079.8L393.4,1074L429.7,1056.2L451.7,1047.2L479.7,1041.1L485.7,1040.7L497.7,1041.1ZM365.2,1338L375.7,1337.8L383.7,1339.6L395.7,1344.1L405.7,1349.4L413.7,1352.9L417.7,1355.4L429.6,1366L437.7,1372L442.2,1376L453,1388L461.2,1398L469.1,1406L470.4,1408L471.8,1412L472.4,1418L473.1,1436L472.1,1444L465.5,1466L462.7,1472L453.6,1488L447.7,1496.3L441.7,1503.5L435.7,1509.3L429.7,1513.8L421.7,1518.8L413.7,1522.4L405.7,1524.8L397.7,1526L379.7,1526.4L373.7,1525.6L363.7,1523.4L355.7,1521.2L343.7,1516.7L333,1512L325.3,1508L316.8,1502L309,1494L301.7,1482.9L293.4,1472L291.4,1468L290.4,1464L289.6,1440L290.2,1430L292.7,1420L297.1,1408L299.9,1402L303.7,1396.4L312.2,1388L320.1,1374L323.7,1368.5L341.7,1348.8L345.3,1346L349.7,1343.7L359.7,1339.3ZM506.8,1046L527.7,1045.8L545.7,1051L557.7,1052.6L565.7,1054.6L569.7,1055L575.7,1054.2L586.4,1050L593.7,1048.9L601.7,1048.9L617.7,1051.4L631.7,1052.1L643.7,1055.3L651.7,1058.5L677.7,1074L682.8,1078L686.3,1082L705.8,1110L709.7,1116.4L722.4,1142L723.7,1148L723.9,1156L724.5,1160L730.2,1172L733.5,1182L735.8,1186L741.7,1194L747.4,1206L754.3,1216L756.9,1222L757.7,1226L759.1,1242L764,1264L766.3,1288L765.9,1310L763.2,1330L761,1340L750.2,1372L743.1,1384L727.4,1406L721.7,1412.8L716.5,1418L699.5,1430L695.7,1432.1L691.7,1433.5L681.7,1434.8L665.7,1434.5L657.7,1432.9L635.7,1424.8L623.7,1419L607.6,1410L593.9,1402L575.7,1387.7L561.8,1378L557.4,1374L552.3,1368L549.5,1364L545.2,1356L539.7,1347.3L531.7,1330.3L530.4,1326L528.5,1314L527.1,1310L525.1,1306L511,1284L507.7,1280L499.7,1272.2L492.8,1262L489.7,1258.7L485.7,1256.3L481.7,1255L471.7,1254L455.7,1254.9L435.7,1258.5L419.7,1259.9L413.7,1259.5L407.7,1257.4L389,1248L380,1242L369.7,1238.6L365.7,1236.8L361.7,1233.7L355.2,1226L345.7,1217.6L340.9,1212L335.5,1200L329.1,1190L327.1,1186L319.8,1164L319.2,1160L319.3,1156L320.3,1152L322,1148L329.7,1136.7L338.3,1120L349.5,1102L351.7,1099.4L355.7,1096.4L367.7,1089.9L385.7,1083.7L403,1076L411.7,1071.6L423.8,1064L429.7,1060.9L443.7,1056.2L455.7,1051L465.7,1048.7L477.7,1046.8L483.7,1046.6L495.7,1047.2ZM367.8,1348L375.7,1347.9L383.7,1349.4L389.7,1351.5L399.7,1355.9L411.7,1359.6L417.7,1363L427.7,1371.7L437.7,1378.9L452,1396L458.4,1404L462.4,1410L464.6,1416L465.8,1422L466.9,1436L466.9,1442L462.8,1460L460.9,1466L459,1470L451.9,1484L448,1490L441.7,1497.4L435.7,1503.4L429.7,1508.2L421.7,1513.5L415.7,1516.5L405.7,1519.8L399.7,1521.3L391.7,1522.2L377.7,1522.7L371.7,1521.9L361.7,1519.8L353.7,1517.3L341.7,1512.5L333.7,1508.9L327.7,1505.5L320.5,1500L313.5,1492L299.2,1470L297.1,1466L296,1462L295.8,1448L294.8,1438L295.3,1430L297.3,1422L302.4,1408L304.4,1404L307.6,1400L315.9,1392L323.7,1378.7L327.7,1373.2L343.7,1358.5L349.5,1354L353.7,1351.9L361.7,1349.2ZM471.1,1052L479.7,1051.7L493.7,1053.1L509.7,1052.2L527.7,1054.3L549.7,1060.8L561.7,1066.9L567.7,1068.7L571.7,1068.6L575.7,1067.4L589.7,1059.8L595.7,1057.9L631.7,1058.5L637.7,1059.5L643.7,1061.4L653.7,1065.6L662.1,1070L673.4,1078L680.1,1084L684.4,1090L693.7,1106.5L701.3,1118L707.3,1130L711.9,1138L713.4,1142L713.4,1146L711.7,1148.9L706.9,1154L706.1,1156L706,1158L707.3,1162L710.2,1166L718.8,1174L721.1,1178L725.7,1188.6L728.5,1192L735.7,1198.8L741.7,1210.1L749,1220L750.6,1224L751.5,1238L752.4,1244L754.2,1252L758.4,1266L762.5,1292L762,1314L759.9,1330L758.7,1336L752.2,1354L748.4,1368L745.6,1374L740.6,1382L725.7,1402.8L719.7,1409.7L713.7,1415.1L695.7,1427L691.7,1428.6L687.7,1429.4L679.7,1429.8L661.7,1429.3L657.7,1428.4L643.7,1423.8L635.7,1420.9L625.7,1416.2L595.7,1398.4L587.6,1392L565.6,1372L560.9,1366L553.7,1351.1L545.2,1340L538.2,1320L534.9,1308L532.4,1302L528,1294L523.4,1288L512.8,1278L503.5,1270L500.3,1266L495.7,1258.7L491.7,1254.5L487.7,1252.1L483.7,1250.4L477.7,1248.6L471.7,1247.5L437.7,1248.7L421.7,1250.5L415.7,1250.1L409.7,1248.3L402.8,1244L395.7,1236L391.7,1233.1L387.7,1231.7L377.1,1230L373.7,1228.6L369.7,1225.8L347.7,1206.6L343.7,1201.3L336,1188L328.7,1168L327.9,1162L328.5,1158L330.6,1152L344.2,1122L347.8,1116L355.7,1105.8L361.7,1101L369.7,1096.4L387.7,1089L413.7,1076.8L429.7,1065.7L433.7,1064L445.7,1061L459.7,1054.6L465.7,1052.9ZM376.1,1356L381.7,1356.1L385.7,1357L409.7,1366.6L415.7,1369.9L423.7,1376.6L433.7,1383.2L437.7,1387.1L446.9,1398L452.9,1406L456.1,1412L458.5,1418L459.7,1422.2L460.4,1428L460.8,1444L458.1,1460L456.1,1466L449.8,1480L444.8,1488L439.7,1493.4L429.7,1502L423.7,1506.6L417.7,1510.3L409.7,1513.7L399.7,1517.1L393.7,1518.2L383.7,1519.1L377.7,1519.3L371.7,1518.7L363.7,1517.2L355.7,1514.8L343.7,1510.1L335.7,1506.4L328.4,1502L323.5,1498L318,1492L315.1,1488L302.7,1466L301.1,1460L301,1450L299.7,1438L299.9,1432L301.2,1426L308.3,1408L311.1,1404L319.7,1394.8L330.1,1380L343.7,1367.8L349.7,1363.6L353.7,1361.8L365.7,1358ZM463.9,1058L469.7,1056.6L473.7,1056.3L477.7,1056.5L489.7,1058.3L505.7,1057.7L513.7,1058.5L523.7,1060.8L537.7,1065.5L547.7,1068L561.7,1075L565.7,1076.3L571.7,1077.2L577.7,1076.8L581.7,1075.9L591.7,1071.8L599.7,1069.3L611.7,1064.7L617.7,1064.1L631.7,1064.6L639.7,1065.8L651.7,1070.2L659.2,1074L664.4,1078L673.7,1086.5L677.7,1090.8L681.3,1096L695.2,1120L695.9,1124L694.8,1130L693.1,1134L687.7,1140.8L685.9,1144L685.3,1148L685.7,1150.6L687,1154L697.7,1174.1L701.7,1177.8L707.7,1181.1L711.1,1184L720.8,1198L723.7,1201L730.1,1206L733.7,1209.8L741,1220L743.1,1224L744.1,1228L747.7,1251.5L749.5,1258L754,1270L757.8,1290L758.1,1312L756.6,1328L755,1336L749.7,1350.6L745.6,1366L743.1,1372L736.9,1382L725.3,1398L719.7,1404.4L713.7,1409.6L707.7,1413.8L697.7,1420.3L691.7,1423.1L683.7,1424.6L669.7,1425.2L661.7,1425L656.5,1424L637.7,1418.2L629.7,1414.7L623.7,1411.3L593.7,1391.8L576,1374L569.3,1366L565.5,1360L563.4,1354L561.6,1346L560,1342L554.4,1334L546.6,1318L542.3,1300L538,1292L533.4,1286L529.7,1282.6L513.7,1272.6L507.7,1268L504.4,1264L498.7,1254L494.5,1250L489.7,1247.2L481.7,1243.5L477.7,1241.8L473.7,1240.8L421.7,1241.1L415.7,1240.7L411.7,1239.8L407.7,1237.6L399.7,1230.3L395.7,1227.4L389.7,1224.4L375.7,1219L369.7,1215.3L347.7,1194.9L342.9,1188L339.5,1180L336.3,1170L335.7,1166L336.2,1160L338.4,1152L345.1,1134L351.1,1122L357.7,1113.1L363.5,1108L369.7,1104L389.7,1094.1L401.7,1087.6L417.7,1080.5L431.7,1070L435.7,1068.3L447.7,1065.5L458.8,1060ZM368.7,1364L375.7,1362.6L381.7,1362.9L387.7,1364.4L397.7,1367.9L407.7,1373L420.7,1382L429.7,1387.2L435.7,1392.4L445.6,1404L449.9,1412L453,1420L454.1,1424L454.9,1446L454.3,1456L452.8,1462L448.2,1474L445.7,1479.8L443.7,1483.2L437.3,1490L425.7,1499.6L419.7,1503.8L413.7,1507.1L401.7,1512.5L397.7,1513.8L391.7,1514.9L375.7,1515.8L369.7,1515.3L363.7,1514.1L347.7,1508.7L339.7,1505L333.7,1501.6L325.7,1495.5L320.6,1490L317.7,1486L308.5,1468L306.1,1460L304.3,1440L304.5,1432L306.5,1424L313,1410L333.7,1384.7L343.7,1375.3L347.7,1372.2L351.7,1370ZM467.1,1062L473.7,1061.2L485.7,1062.8L499.7,1062.5L507.7,1063.3L521.7,1067.1L535.7,1072.3L545.7,1074.8L559.7,1081.2L579.7,1087L583.7,1089.1L586.8,1092L589.1,1096L591.7,1102.2L593.7,1105.5L596,1108L599.7,1110.8L605.3,1114L609.7,1116.1L613.7,1117.1L615.7,1117L617.6,1116L618.2,1114L617.7,1112L615.7,1109.8L609.7,1107.4L607.5,1106L605.8,1104L604.8,1102L604.2,1098L604.9,1094L608,1086L608.4,1074L609.7,1071.5L611.5,1070L613.7,1069.2L617.7,1068.9L635.7,1070.2L641.7,1071.7L651.7,1075.6L655.7,1077.8L659.7,1080.9L671.7,1092.3L676.3,1098L683.7,1111.1L686.4,1118L687.9,1120L687.7,1120.8L681.7,1119.5L677,1120L673.7,1121.4L671.7,1124L668.8,1136L661,1150L659.7,1153.5L659.4,1158L660.6,1162L661.7,1164.2L663.7,1166.4L669.7,1169.9L677.6,1176L685.7,1181.2L691.7,1186.3L695.7,1188.8L703.7,1192.5L707.7,1195.2L711.7,1198.7L720.5,1208L729.7,1215.8L733.2,1220L735.6,1224L737,1228L744,1258L750.1,1274L753.2,1290L753.7,1314L752.4,1330L751,1336L745.8,1352L741.2,1368L736.1,1378L722.8,1396L717.7,1401.3L709,1408L697.7,1415L689.7,1418.6L681.7,1420.2L665.7,1421.2L657.7,1420.6L643.7,1416.9L633.7,1413.2L625.7,1408.9L618.3,1404L605.7,1394.3L595.7,1387.7L591.7,1383.9L579.6,1370L572.7,1360L570.7,1356L569.7,1352L568.9,1342L567.4,1338L555.1,1318L553.2,1314L552.2,1310L550.4,1296L548,1290L542.9,1284L533.7,1276.2L529.7,1274L517.7,1269.6L511.6,1266L509.7,1264L507.1,1260L503.7,1251.2L499.7,1246.6L483.7,1236.6L477.7,1234.1L471.7,1233.5L459.7,1234.5L437.7,1234.1L431.7,1233.1L421.7,1229.8L411.7,1228.5L407.7,1227.3L382,1214L375.7,1210.1L362.7,1198L352.4,1190L349.7,1186.9L346.1,1180L343.6,1172L342.8,1164L343.6,1156L346.3,1146L350.5,1136L355.7,1126.9L362.9,1118L367.7,1113.3L373.7,1109L389.7,1100.4L403.7,1092.2L419.7,1085.1L435.2,1074L439.7,1072.3L449.7,1069.7L461.7,1063.9ZM369.6,1370L373.7,1369L379.7,1369.2L395.7,1373.6L401.7,1376.6L413.8,1384L427.7,1391.6L434.9,1398L441.2,1406L445.8,1416L447.9,1422L448.8,1426L450,1450L449.7,1456L448.2,1462L444.2,1474L442.4,1478L439.9,1482L433.7,1488.3L423.7,1496.4L417.7,1500.5L399.7,1509.4L395.7,1510.8L389.7,1511.9L375.7,1512.6L369.7,1512.1L363.7,1511L347.7,1505.7L341.7,1502.8L334,1498L325.7,1491.1L320.1,1484L317.1,1478L312.1,1466L310,1458L308.4,1440L309.2,1430L311.9,1422L318.7,1410L327.7,1398.8L339.6,1386L345.7,1380.5L351.7,1376.7ZM464.9,1068L469.7,1066.8L473.7,1066.5L485.7,1067.4L497.7,1066.8L505.7,1068L521.7,1073L539.5,1080L551.7,1086L563.7,1090.6L567.7,1092.7L571.7,1095.7L573.6,1098L575.6,1102L579.3,1116L579.2,1120L575.3,1128L575.1,1130L576.2,1134L585.7,1146.8L592.5,1154L595.3,1158L597.8,1164L600.1,1178L601.6,1182L611.1,1196L613.7,1198.5L616.4,1200L619.7,1200.8L624,1200L627,1198L628.6,1196L633.7,1187.4L636.3,1184L637.7,1182.8L639.7,1181.9L643.7,1182L653.9,1186L665.7,1188.3L681.7,1193.2L693.7,1199L703.7,1203.1L707.7,1205.8L715.7,1213.8L724,1220L725.8,1222L728.3,1226L735.7,1246L741.7,1265.1L745.9,1276L748,1284L749,1292L749.6,1316L748.6,1330L744.9,1344L738.1,1366L735.8,1372L731,1380L721.7,1392.1L717.7,1396.6L711.7,1401.6L705.7,1405.6L691.7,1413L687.7,1414.6L681.7,1416.1L663.7,1417.6L655.7,1416.9L641.7,1413L631.7,1408.9L623.7,1404.2L618.2,1400L607.7,1390.7L598.6,1384L593.7,1379.1L586.1,1370L578.8,1358L576.4,1352L575.6,1342L574.6,1338L572.9,1334L563,1316L560.5,1310L559.2,1302L558.6,1286L556.5,1274L555.8,1266L554.1,1262L551.7,1258.7L550.5,1256L549.9,1252L550,1244L548.1,1238L544.5,1232L541.7,1229.1L539.7,1227.7L535.7,1226.1L532.9,1226L529.7,1226.7L527.3,1228L522.4,1232L511.7,1243.8L501.7,1238.4L489.6,1230L485.5,1228L479.7,1226.2L475.7,1225.5L471.7,1225.5L461.7,1227.2L457.7,1227.4L439.7,1226.7L435.7,1226L423.7,1220.7L419.7,1219.8L409.7,1218.9L405.7,1218.1L395.7,1213.7L381.7,1205.2L375.7,1201L357.7,1186.7L355.2,1184L352.7,1180L350.2,1172L349.1,1162L349.5,1154L351,1148L353.7,1141.7L358.3,1134L362.9,1128L371.7,1118.4L379.7,1112.3L393.7,1104.3L403.7,1098L417.7,1091.6L423.7,1088.4L437.7,1078.4L441.7,1076.6L451.7,1073.7ZM631.2,1076L635.7,1076.1L643.7,1078.1L651.7,1081.7L657.4,1086L663.4,1092L666.1,1096L665.7,1098.7L664.7,1100L661.9,1102L657.7,1102.6L653.7,1101.2L647.2,1096L641.5,1090L632.6,1084L628.7,1080L627.5,1078L629.7,1076.1ZM370.4,1376L373.7,1375.2L377.7,1375.1L383.7,1376.3L389.7,1378.1L419.7,1392L425.7,1395.4L431.7,1401.1L436.8,1408L442.1,1420L444,1428L445.3,1450L445.2,1456L444,1462L440.9,1472L439.3,1476L436.9,1480L433.5,1484L429,1488L421.7,1493.8L415.5,1498L397.7,1506.7L393.7,1508L387.7,1509.1L379.7,1509.6L371.7,1509.4L359.7,1507.1L351.7,1504.5L346,1502L333.7,1494.1L329.7,1490.8L325.7,1486.7L321.3,1480L314.6,1462L312.9,1454L312.2,1440L313.4,1430L316.7,1422L325.6,1408L330.5,1402L339.7,1392.4L347.7,1385.5L353.7,1382.2ZM473.7,1072L483.7,1072.1L497.7,1071.2L503.7,1072.2L513.7,1075.1L527.7,1080.1L535.7,1083.8L555.3,1096L560.3,1100L563.7,1104.7L565.6,1110L566.9,1126L568.3,1132L575,1148L581.2,1158L582.8,1162L584.2,1174L588.4,1194L591,1200L593.7,1202.8L599,1206L603.7,1208.1L607.7,1208.9L617.7,1209.5L627.7,1212.7L631.7,1213.5L637.7,1212.4L653.7,1204.8L659.7,1203.3L677.7,1203.1L685.7,1204.9L699.7,1210.6L708.6,1218L717.7,1223.8L719.7,1225.8L722.2,1230L726.2,1240L732.8,1252L742.1,1278L743.7,1284L744.7,1292L745.9,1318L744.9,1330L742,1342L733.8,1368L729.7,1376.3L717.7,1391.9L711.7,1397.4L701.7,1403.6L688.4,1410L683.7,1411.7L675.7,1413.4L669.7,1413.9L661.7,1414.2L655.7,1413.6L642.1,1410L633.7,1406.5L627.7,1403.4L623,1400L603.1,1382L597.4,1376L591.3,1368L583.2,1352L582.2,1348L581,1338L579.7,1333.2L576.8,1326L571.7,1316L569.4,1310L568.4,1304L568.8,1298L571.7,1289.8L577.5,1280L579.2,1276L579.3,1274L578.1,1266L578.3,1264L582.1,1254L583.5,1248L583.7,1238.9L582.7,1236L581.1,1234L577.7,1232.3L571.7,1230.7L565.7,1228.4L555.7,1226.5L551.7,1224.2L545.7,1219.8L541.7,1218.2L537.7,1217.5L533.7,1217.5L529.7,1218.1L513.7,1223L503.7,1224.9L497.7,1223.9L485.7,1218.7L477.7,1216.6L471.7,1216.9L459.7,1219.5L435.7,1217.1L423.7,1211.6L409.7,1209.4L401.7,1207.5L397.7,1205.9L381.7,1197.9L375.7,1194.3L364.7,1186L360.7,1182L357.7,1177.4L355.8,1172L354.2,1162L354.1,1156L355.2,1150L357.8,1144L363,1136L367.8,1130L375.7,1122L383.7,1115.8L405.7,1102.7L425.7,1092.8L437.7,1084.1L441.7,1081.7L453.7,1077.6L463.7,1073.7L467.7,1072.6ZM370.5,1382L373.7,1381.2L377.7,1381L383.7,1382.2L396.8,1388L413.7,1394L421.8,1398L427.7,1403.2L432.5,1410L437.2,1420L439.1,1426L439.9,1430L441,1452L440.7,1458L437.8,1470L436.2,1474L433.7,1478.5L430.9,1482L425.7,1486.9L417.7,1493L411.7,1496.8L403.7,1500.9L395.7,1504.3L391.7,1505.5L385.7,1506.5L371.7,1506.6L365.7,1505.8L357.7,1503.9L347.7,1500L335.7,1492L328.8,1486L324.5,1480L322.7,1476L318,1462L316.1,1454L315.6,1448L315.7,1440L316.5,1434L317.5,1430L320.2,1424L330.7,1408L339.7,1398.2L347.7,1391.2L355.7,1387.2ZM487.9,1076L495.7,1075.6L503.7,1076.8L513.7,1079.5L525.7,1083.9L531.7,1086.6L536.9,1090L544.3,1096L548.1,1100L554.8,1110L556.9,1114L560.4,1128L564.7,1140L567.2,1152L571.2,1162L572.3,1168L572.5,1174L572,1180L571.2,1184L569.7,1188L568.4,1190L563.8,1194L559.7,1196.6L555.7,1198L553.7,1198L547.7,1196.6L543.7,1197.1L541.7,1198.1L533.7,1204.7L527.7,1208.7L521.2,1212L514.7,1214L505.7,1215.4L499.7,1215.1L495.7,1213.6L487.7,1208.8L481.7,1207.6L475.7,1208.2L463.7,1211.1L459.7,1211.2L453.7,1210.2L439.7,1208.2L427.7,1203L399.7,1199.3L385.7,1193.9L377.7,1189.9L372.2,1186L367.5,1182L364,1178L361.6,1174L359.7,1168.5L358.6,1162L358.4,1156L359,1152L360.4,1148L362.4,1144L369.7,1134L379.7,1124.6L391.9,1116L407.7,1107.1L426.7,1098L431.7,1094.7L439.7,1088.3L445.7,1085.1L465.7,1078.2L471.7,1077.3ZM671.7,1214L675.7,1213L683.7,1212.9L691.7,1215.4L697.7,1218.7L710.8,1228L713.7,1230.6L716.3,1234L719.7,1240L727.7,1251.3L731.9,1260L735.4,1272L738.6,1280L739.7,1284L742.1,1314L741.7,1326.1L741.2,1330L739.3,1336L738.2,1342L729.2,1370L725.7,1376.1L716.7,1388L713,1392L707.8,1396L700.1,1400L691.7,1402.7L686.1,1406L680.8,1408L671.9,1410L663.7,1410.4L657.2,1410L651.3,1408L649.7,1406.6L645.7,1404.8L634.2,1402L629.6,1400L627.7,1398.7L619,1390L607.7,1380.7L598.9,1370L595.7,1364.8L591.4,1356L588.3,1348L586.3,1328L587.1,1316L587.8,1312L589.6,1310L591.7,1308.7L593.7,1305.5L596.6,1292L603.6,1276L604.8,1272L605,1270L604.3,1266L599.8,1254L599.8,1250L601.7,1246.2L606.8,1240L609.5,1234L613.7,1227.3L615.7,1225.3L617.7,1224.3L619.7,1224.1L623.7,1225L625.7,1226L627.7,1229.8L629.7,1231.1L633.7,1231.1L639.7,1230.3L646,1228L655.6,1220L659.7,1217.7ZM639.7,1381.9L637.7,1382L635.7,1383.3L634,1386L633.7,1388L633.9,1390L635.7,1394L637.7,1396.2L639.7,1397.4L641.7,1397.7L643.7,1396.6L645.2,1394L645.7,1390L645.3,1388L643.7,1384.8L641.7,1382.8ZM369.1,1388L375.7,1386.8L381.7,1387.5L393.1,1392L407.7,1396L417.7,1400.7L423.7,1405.6L428.4,1412L433.3,1422L436.1,1432L437,1454L436.7,1460L434.1,1470L432.5,1474L430.1,1478L426.7,1482L422.3,1486L415.7,1491L409.7,1494.8L403.7,1498L395.7,1501.5L389.7,1503.3L385.7,1503.9L377.7,1504.3L369.7,1503.9L363.7,1503L357.7,1501.4L351.7,1499.2L347.7,1497.2L337.7,1490.2L330.6,1484L326.5,1478L320.5,1460L319.1,1454L318.7,1448L318.9,1442L320.6,1432L323.7,1425.2L334,1410L341.7,1401.4L345.7,1397.8L349.7,1395L355.7,1392.2ZM486.7,1080L491.7,1079.7L497.7,1080.2L509.7,1082.6L517.7,1085.1L524.9,1088L529.7,1090.5L535.7,1094.9L541,1100L545.2,1106L550.7,1116L552.1,1120L554,1130L558,1140L561.7,1166L561.1,1172L558.1,1178L553.7,1182.6L551.4,1184L541.7,1188L531.7,1194.8L519.7,1201.9L515.7,1204L511.7,1205.2L507.7,1205.8L503.7,1205.6L499.7,1204.2L493.7,1201.3L487.7,1200L479.7,1200.2L465.7,1203.2L461.7,1202.9L449.3,1200L433.7,1195.5L399.7,1193.5L391.7,1191.1L379.7,1185.5L374.5,1182L370,1178L366.8,1174L364.6,1170L363.3,1166L362.3,1160L362.6,1154L363.6,1150L365.4,1146L367.8,1142L373.7,1135L383.7,1126.7L396.6,1118L409.7,1111.1L429.7,1102.2L433.7,1099.6L442.6,1092L447.7,1089.3L465.7,1082.9ZM662.2,1228L667.7,1226.6L681.7,1226.3L687.7,1226.7L693.7,1228.3L699.7,1232L707.7,1241L715.7,1246.7L719.7,1250.4L722.5,1254L724.6,1258L734.1,1282L735.3,1290L735.5,1298L737.6,1312L737.7,1316L737.1,1320L729.7,1336L725.7,1347.5L723.7,1350.6L715.7,1357L713.6,1360L712.8,1364L712.7,1372L711.7,1375.4L710,1378L707.7,1379.9L705.7,1380.5L703.7,1380.5L693.7,1377.4L689.7,1376.8L685.7,1377L681.7,1378.7L675.7,1386.1L673.7,1387.1L669.7,1387.2L661.7,1384.7L657.7,1381.8L653,1376L649.7,1372.7L643.7,1369.2L635.7,1367.2L621.7,1365.7L613.7,1362.3L607.7,1358.6L604.9,1356L602.3,1352L601,1348L601.3,1344L603.1,1338L611.3,1320L612.6,1316L612.7,1310L609.4,1300L609,1294L610,1290L620.5,1262L626.3,1254L630.6,1250L647.7,1239.1L657.7,1230.9ZM364.2,1394L373.7,1392.2L379.7,1392.4L393.7,1396.4L403.7,1398.7L409.7,1401.1L417,1406L423.7,1413.2L429,1422L431.9,1430L433.1,1438L433.5,1458L432,1466L428.9,1474L426.3,1478L423.7,1481L412.3,1490L402.1,1496L391.7,1500.2L387.7,1501.1L381.7,1501.7L367.7,1501.4L355.7,1498.3L347.7,1494.4L335.7,1485.3L330.7,1480L327.8,1474L322.8,1458L321.8,1450L322.2,1440L324.1,1432L327.1,1426L337.7,1411.1L345.7,1402.8L349.7,1399.7L353.7,1397.5ZM483,1084L489.7,1083.4L495.7,1083.8L509.7,1086.8L517.7,1089.2L523.7,1091.9L527.7,1094.4L533.7,1099.4L537.7,1103.7L541.8,1110L545.8,1118L547,1122L548.1,1132L551.2,1142L551.8,1146L551.8,1150L551.4,1158L550.2,1164L548.5,1168L544.7,1174L541.5,1178L536.9,1182L531.7,1185.5L527.7,1187.4L511.7,1192.7L505.7,1193.4L493.7,1192L487.7,1192L477.7,1193L467.7,1195.1L463.7,1195.3L443.7,1190.4L433.7,1189.2L399.7,1188.3L393.7,1186.6L381.7,1181.3L377.7,1178.9L373.7,1175.7L370.4,1172L368,1168L366.6,1164L365.9,1160L366.2,1154L367.2,1150L369.1,1146L371.7,1142.2L377.6,1136L385.7,1129.8L398,1122L411.7,1115.1L431.7,1106.8L437.7,1102.8L445.4,1096L449.7,1093.5L465.7,1087.1ZM667.2,1238L673.7,1237.9L683.7,1236.8L689.7,1237.8L693.7,1239.8L703.7,1247.9L713.7,1253.9L717.2,1258L725.7,1272.7L729.1,1280L730.7,1286L732.3,1310L731.3,1316L728.3,1322L715.7,1341.6L703.9,1352L697.7,1359.7L693.7,1362.2L683.7,1364.5L671.7,1368.4L667.7,1369L661.7,1367.6L655.7,1364.4L651.7,1361.1L643.7,1352L633.3,1344L631.4,1342L625.4,1332L623.4,1326L622.9,1314L621.1,1304L620.9,1300L621.8,1296L630.7,1268L633.1,1264L635.7,1261.2L645.7,1253.3L657.7,1242.5L663.7,1238.8ZM364,1398L371.7,1396.8L379.7,1397.1L401.7,1401.9L405.7,1403.4L412.3,1408L421.7,1417.8L425.8,1424L428.7,1432L429.8,1438L430.3,1460L428.2,1468L425.4,1474L423.7,1476.7L420.5,1480L409.7,1488L398.5,1494L389.7,1498L379.7,1499.3L367.7,1499L356.4,1496L348.5,1492L335.8,1482L332.5,1478L329.9,1472L325.7,1458.4L324.8,1450L325.2,1440L326.8,1434L329.7,1428L335.7,1419.2L345.7,1407.6L353.7,1401.8L357.7,1399.9ZM478.8,1088L485.7,1086.9L491.7,1086.8L497.7,1087.7L511.7,1091L517.7,1093.2L522.8,1096L527.7,1099.9L531.6,1104L537.7,1112.3L540.4,1118L541.6,1122L542.8,1134L544.6,1146L544.4,1154L543.2,1160L541.7,1163L539.5,1166L533.7,1171.9L529.7,1175.1L524,1178L511.7,1182.6L507.7,1183.1L497.7,1182.7L489.7,1183.1L461.7,1187.4L447.7,1184.9L437.7,1184.1L423.7,1183.1L407.7,1183.6L401.7,1183.4L393.7,1181.4L381.7,1176.6L377.7,1174L373.7,1170.3L371.7,1167.5L370,1164L368.9,1158L369.3,1154L370.5,1150L373.7,1144.6L377.7,1140.2L383.7,1135.2L389.7,1131.4L408,1122L431.7,1112.4L438.6,1108L447.8,1100L454.7,1096L467.7,1090.3ZM679.8,1250L685.7,1248.4L687.7,1248.4L691.7,1249.4L707.7,1258.8L711.7,1262.1L715.7,1266.6L721.7,1274.3L725.5,1282L727.1,1290L728,1306L727,1312L724.2,1318L719.7,1324L707.6,1338L701.7,1343.1L691.7,1350.6L687.7,1352.6L677.7,1356.3L673.7,1357.6L669.7,1358.1L665.7,1357.6L663.7,1356.8L659.7,1354.1L644.1,1340L640.4,1334L633.9,1320L631.7,1312L631,1306L631.7,1300L636,1284L639.7,1274.9L642.8,1270L651.7,1261.1L657.7,1256.2L661.7,1253.7L665.7,1252.5L673.7,1251.7ZM364,1402L369.7,1401.2L377.7,1401.6L380.8,1402L391.7,1405.3L401.7,1406.2L407.5,1410L412.6,1416L419.7,1423L421.7,1426.1L423.7,1431.3L426,1446L426.7,1456L426.1,1462L423.7,1468.5L421.6,1472L418.3,1476L412.9,1480L405.7,1484.7L389.7,1492.7L381.7,1495.3L375.7,1495.7L365.7,1494.2L357.2,1492L353.1,1490L337.7,1479.2L335.7,1476.8L333.7,1472.2L332.3,1464L329.6,1456L328.7,1450L329.7,1440.2L331.7,1434.2L337.7,1426.9L343.7,1417.9L349.8,1410L354.6,1406L358.1,1404ZM487.4,1090L493.7,1090.2L499.7,1091.3L509.7,1093.9L515.7,1096.1L519.7,1098.3L523.7,1101.5L530.8,1110L535.1,1118L537,1126L538.8,1144L539,1150L538.1,1156L536.2,1160L532.2,1164L527.7,1166.8L511.7,1174L505.7,1175.4L483.7,1176.6L457.7,1179.8L439.7,1178.7L427.7,1176.7L423.7,1176.5L407.7,1178.4L401.7,1178.3L395.7,1177.2L387.7,1175L379.7,1171.4L377.7,1169.8L374.2,1166L372.1,1162L371.6,1160L371.5,1158L372.1,1154L373.7,1150L375.7,1146.8L381.7,1140.8L389.7,1135.3L417.7,1123.7L429.7,1119.6L433.7,1117.5L439.7,1113.1L451.7,1102.6L461.7,1096.8L471.7,1092.7ZM688.8,1260L691.7,1260.1L695.7,1260.9L705.7,1265.4L711.7,1269.7L717.7,1276L721.2,1282L723,1288L724.2,1298L724.2,1306L722.5,1312L718.7,1318L698.3,1338L691.7,1342.8L687.7,1345L681.7,1347L674.7,1348L669.7,1347.8L663.7,1345.3L651.7,1336.5L647.9,1332L641.6,1318L639.6,1312L639.4,1306L641.2,1294L642.4,1288L644.9,1282L649.7,1275.5L655.7,1269.3L661.7,1266.1L673.7,1262L679.7,1260.9ZM371.1,1412L377.7,1411.7L383.7,1412.9L399.7,1418.8L407.7,1423.3L413.3,1428L416.4,1432L419.3,1438L421.5,1446L422.3,1454L421.6,1460L419.4,1466L415.7,1471.6L411.2,1476L405.7,1479.9L395.7,1485.4L387.7,1488.8L379.7,1490.5L373.7,1490.2L363.7,1487.7L356.3,1484L349.3,1478L344.1,1472L341.1,1466L336.9,1454L336.7,1450L337.7,1446L343.1,1436L347.7,1425.7L351.7,1421.8L361.7,1415.3L365.7,1413.2ZM480.8,1094L487.7,1093.1L491.7,1093.1L497.7,1093.9L503.7,1095.3L509.7,1097.2L515.7,1099.8L519.7,1102.5L523.2,1106L526.2,1110L529.6,1116L531.1,1120L532.4,1126L533.7,1148L533.2,1152L531.6,1156L527.7,1159.9L523.7,1162L505.7,1168.8L499.7,1170L467.7,1170L451.9,1172L445.7,1172.3L439.7,1171.5L431.7,1168.7L425.7,1168.9L407.7,1172.8L403.7,1173.3L395.7,1173L385.7,1170.9L379.7,1167.9L377.5,1166L374.6,1162L373.8,1160L373.7,1157.8L374.6,1154L376.7,1150L379.7,1146.4L383.7,1142.9L387.7,1140.1L391.7,1138L399.7,1135.3L414.1,1132L433.7,1125.5L437.7,1122.6L451.6,1108L456.8,1104L463.7,1099.9L469.7,1096.9L473.7,1095.5ZM680.3,1268L689.7,1267.6L695.7,1268.2L703.7,1270.8L709.7,1274.5L713.7,1278.1L717.8,1284L719.8,1290L721.1,1298L721,1304L720.2,1308L718.3,1312L715.7,1315.6L711.7,1319.5L693.7,1334.4L685.7,1339.2L679.7,1340.7L675.7,1340.7L671.7,1340.1L665.7,1338L659.7,1334.1L655.3,1330L651.7,1324.4L648.1,1316L646.7,1310L646.8,1302L647.8,1292L649.7,1286.4L652.7,1282L657.7,1277L663.7,1273.2L673.7,1269.5ZM371.4,1422L377.7,1420.7L383.7,1421.2L395.7,1425.1L403.7,1428.4L407.7,1430.7L411.7,1434.4L414.2,1438L416.8,1444L418,1450L418.1,1456L416.9,1462L415.1,1466L411.7,1470.5L405.7,1475.7L398.4,1480L391.7,1483.2L385.7,1485.1L377.7,1485.8L371.7,1484.9L364.2,1482L358.5,1478L353,1472L349,1466L345.2,1458L344.1,1454L344.3,1450L345.7,1446.4L349.6,1440L353.7,1431.6L355.7,1429.3L357.7,1427.8ZM476.6,1098L483.7,1096.6L489.7,1096.2L499.7,1097.2L505.7,1098.9L513.1,1102L517.7,1105L520.7,1108L523.6,1112L526.5,1118L528.6,1128L528.9,1136L528.3,1146L527.4,1150L525.7,1153L523.7,1155L519.7,1157.3L503.7,1163.6L497.7,1164.7L477.7,1163.7L460.3,1162L447.7,1159.9L439.7,1156.8L435.7,1155.9L431.7,1156.8L429.5,1158L421.7,1162.8L411.7,1166.4L399.7,1169L389.7,1168.6L387.1,1168L382,1166L377.7,1161.9L376.7,1160L376.4,1158L377.5,1154L379.7,1150.8L382.1,1148L387.3,1144L393.7,1141L401.7,1139L421.7,1137.9L431.7,1136.7L435.7,1135.5L439.7,1132.6L441.7,1130.2L448.9,1118L455.5,1110L460.5,1106L466.9,1102L471.7,1099.6ZM677.8,1274L683.7,1273.2L691.7,1273.4L697.7,1274.5L703.7,1276.8L709.7,1280.5L713.2,1284L715.7,1288L717.7,1294L718.4,1300L718,1304L716.7,1308L714.2,1312L707.7,1318.1L689.7,1329.9L683.7,1332.6L679.7,1333.5L673.7,1333.3L667.7,1331.5L663.7,1328.9L659.1,1324L655.4,1318L653.2,1312L652.5,1306L652.8,1296L653.7,1292L655.5,1288L658.7,1284L663.7,1279.8L669.7,1276.6ZM377.2,1428L381.7,1427.5L385.7,1428.1L397.7,1432.2L405.7,1436L409.7,1439.9L411.2,1442L413.7,1448L414,1452L413.7,1457.9L411.7,1464.3L407.7,1468.1L395.7,1475.3L389.7,1478.1L379.7,1480.6L373.7,1480.3L367.7,1478.1L362.6,1474L359.2,1470L355.5,1464L353.3,1458L352.6,1454L353.1,1450L355,1446L357.7,1442.4L361.7,1437.8L368.5,1432L371.7,1430ZM480.9,1100L489.7,1099.3L497.7,1099.7L503.7,1101.1L510.6,1104L515.7,1107.3L519.7,1111.5L522.4,1116L524.3,1122L525.2,1130L524.6,1138L522.3,1146L519.7,1149.8L517,1152L513.7,1153.9L504.3,1158L499.7,1159.2L493.7,1159.6L475.7,1157.7L465.7,1155.4L461.7,1153.6L453.1,1148L449.7,1144.8L448.3,1142L448.5,1136L450.7,1126L453.3,1120L457.2,1114L461.7,1109.4L469.7,1104L473.7,1102ZM674.8,1280L679.7,1278.7L685.7,1278.1L691.7,1278.4L697.7,1279.7L703.7,1282L707.7,1284.2L711.7,1287.8L714.1,1292L715.4,1296L715.9,1300L715.1,1304L713.3,1308L711.7,1310.1L707.7,1314L703.7,1316.6L693.7,1321.9L687.7,1324.3L681.7,1325.9L677.7,1326.4L673.7,1326.2L669.7,1324.8L665.7,1322L662.1,1318L659.6,1314L658.2,1310L657.4,1304L657.7,1297.2L659.2,1292L661.7,1288.5L665.7,1284.7L669.7,1282.1ZM385.1,1438L389.7,1438.1L395.7,1441L403.2,1448L405.8,1452L406.3,1454L405.9,1458L405.2,1460L402.5,1464L397.7,1468.4L393.7,1470.8L390.4,1472L383.7,1472.9L379.7,1472.4L375.7,1471.3L373.1,1470L370.7,1468L369.3,1466L368.1,1462L368.1,1456L368.6,1454L370.5,1450L373.8,1446L379.7,1440.5L381.7,1439.2ZM476.9,1104L481.7,1102.8L485.7,1102.5L495.7,1102.6L501.7,1103.3L508.2,1106L511.6,1108L517.7,1113.9L519.7,1117.3L521.1,1122L521.6,1130L521.2,1134L519.7,1138.3L515.7,1143.9L511.7,1147.6L505.7,1151L501.7,1152.5L495.7,1153.3L485.7,1153.3L479.7,1152.7L473.7,1151.1L467.7,1148L463.7,1145.1L460.8,1142L458.4,1138L456.5,1132L456.5,1128L457.6,1122L459.5,1118L462,1114L465.8,1110L472,1106ZM678.6,1286L687.7,1284.9L691.7,1284.9L695.7,1285.5L703.4,1288L706.4,1290L709.9,1294L711.2,1300L709.7,1303.9L703.9,1310L700.8,1312L693.7,1315.3L691.7,1316L681.7,1317.2L674.9,1316L671.7,1314.6L668.3,1312L665.7,1308.9L664.1,1306L663.6,1304L663.8,1300L664.5,1296L665.7,1293.4L669.7,1289.7L672.8,1288ZM381.6,1448L385.7,1446.5L389.7,1446.5L391.7,1447L395.7,1449.6L397.5,1452L398.7,1456L398.2,1460L395.7,1463.8L393.7,1465.4L389.7,1466.9L383.7,1466.9L379.7,1464.7L377.7,1462.3L376.4,1458L376.9,1454L379.3,1450Z" fill="none" stroke="#545454" stroke-width="2.1" stroke-linejoin="round"/>
<path d="M727.7,1075h0M432.7,1006h0M243.7,1314h0M780.7,1466h0M329.7,1276h0M279.7,1334h0M438.7,1004h0M197.7,1336h0M435.7,1554h0M316.7,1519h0M684.7,1468h0M308.7,1036h0M328.7,1536h0M645.7,1521h0M736.7,1065h0M613.7,1431h0M515.7,1006h0M698.7,1039h0M271.7,1185h0M334.7,1061h0M736.7,1479h0M708.7,1505h0M286.7,1210h0M787.7,1187h0M398.7,1037h0M719.7,1024h0M682.7,1462h0M809.7,1417h0M422.7,1015h0M264.7,1329h0M320.7,1260h0M302.7,1518h0M595.7,1464h0M233.7,1419h0M758.7,1392h0M405.7,1558h0M477.7,1591h0M796.7,1204h0M286.7,1117h0M237.7,1496h0M479.7,1017h0M265.7,1228h0M473.7,1019h0M251.7,1188h0M615.7,1019h0M255.7,1161h0M261.7,1493h0M377.7,1540h0M275.7,1494h0M534.7,1399h0M218.7,1425h0M287.7,1225h0M343.7,1068h0M313.7,1290h0M696.7,1469h0M424.7,1017h0M533.7,1006h0M649.7,1484h0M258.7,1170h0M661.7,1458h0M566.7,1470h0M412.7,1550h0M310.7,1259h0M800.7,1222h0M527.7,1500h0M254.7,1482h0M765.7,1439h0M506.7,1502h0M621.7,1435h0M404.7,1563h0M235.7,1201h0M697.7,1471h0M653.7,1558h0M278.7,1201h0M254.7,1423h0M254.7,1229h0M310.7,1312h0M432.7,1021h0M413.7,1006h0M254.7,1480h0M320.7,1304h0M743.7,1427h0M526.7,1472h0M308.7,1275h0M808.7,1230h0M353.7,1068h0M721.7,1494h0M285.7,1512h0M490.7,1470h0M465.7,1528h0M240.7,1438h0M717.7,1456h0M739.7,1083h0M500.7,1483h0M259.7,1201h0M797.7,1291h0M795.7,1187h0M267.7,1403h0M506.7,1442h0M808.7,1406h0M244.7,1187h0M282.7,1101h0M268.7,1517h0M263.7,1172h0M259.7,1292h0M351.7,1028h0M257.7,1171h0M645.7,1025h0M797.7,1209h0M644.7,1461h0M397.7,1576h0M739.7,1428h0M216.7,1142h0M578.7,1441h0M571.7,1429h0M257.7,1509h0M787.7,1376h0M357.7,1542h0M326.7,1272h0M260.7,1157h0M229.7,1364h0M371.7,1546h0M643.7,1466h0M794.7,1341h0M236.7,1345h0M514.7,1438h0M291.7,1300h0M259.7,1391h0M502.7,1573h0M380.7,1550h0M309.7,1515h0M704.7,1044h0M240.7,1396h0M801.7,1229h0M394.7,1542h0M234.7,1183h0M425.7,1549h0M277.7,1116h0M799.7,1276h0M349.7,1565h0M257.7,1416h0M361.7,1550h0M268.7,1381h0M753.7,1108h0M700.7,1462h0M273.7,1366h0M251.7,1352h0M391.7,1049h0M282.7,1054h0M345.7,1549h0" fill="none" stroke="#2a2a2a" stroke-width="3.3" stroke-linecap="round"/>
<rect x="181.7" y="960" width="672.5" height="672" fill="none" stroke="#222" stroke-width="2.7"/>
<line x1="181.7" y1="1292.1" x2="854.2" y2="1292.1" stroke="#000" stroke-width="4.6"/>
<line x1="492.8" y1="960" x2="492.8" y2="1634" stroke="#000" stroke-width="4.6"/>
<line x1="161.7" y1="1026.8" x2="181.7" y2="1026.8" stroke="#000" stroke-width="4.6"/>
<line x1="161.7" y1="1161" x2="181.7" y2="1161" stroke="#000" stroke-width="4.6"/>
<line x1="161.7" y1="1294.8" x2="181.7" y2="1294.8" stroke="#000" stroke-width="4.6"/>
<line x1="161.7" y1="1428.6" x2="181.7" y2="1428.6" stroke="#000" stroke-width="4.6"/>
<line x1="161.7" y1="1562.4" x2="181.7" y2="1562.4" stroke="#000" stroke-width="4.6"/>
<line x1="172.2" y1="989.5" x2="181.7" y2="989.5" stroke="#000" stroke-width="2.4"/>
<line x1="172.2" y1="965.9" x2="181.7" y2="965.9" stroke="#000" stroke-width="2.4"/>
<line x1="172.2" y1="1123.6" x2="181.7" y2="1123.6" stroke="#000" stroke-width="2.4"/>
<line x1="172.2" y1="1100" x2="181.7" y2="1100" stroke="#000" stroke-width="2.4"/>
<line x1="172.2" y1="1083.2" x2="181.7" y2="1083.2" stroke="#000" stroke-width="2.4"/>
<line x1="166.7" y1="1070.2" x2="181.7" y2="1070.2" stroke="#000" stroke-width="2.4"/>
<line x1="172.2" y1="1059.6" x2="181.7" y2="1059.6" stroke="#000" stroke-width="2.4"/>
<line x1="172.2" y1="1050.6" x2="181.7" y2="1050.6" stroke="#000" stroke-width="2.4"/>
<line x1="172.2" y1="1042.8" x2="181.7" y2="1042.8" stroke="#000" stroke-width="2.4"/>
<line x1="172.2" y1="1035.9" x2="181.7" y2="1035.9" stroke="#000" stroke-width="2.4"/>
<line x1="172.2" y1="1257.5" x2="181.7" y2="1257.5" stroke="#000" stroke-width="2.4"/>
<line x1="172.2" y1="1234" x2="181.7" y2="1234" stroke="#000" stroke-width="2.4"/>
<line x1="172.2" y1="1217.2" x2="181.7" y2="1217.2" stroke="#000" stroke-width="2.4"/>
<line x1="166.7" y1="1204.3" x2="181.7" y2="1204.3" stroke="#000" stroke-width="2.4"/>
<line x1="172.2" y1="1193.7" x2="181.7" y2="1193.7" stroke="#000" stroke-width="2.4"/>
<line x1="172.2" y1="1184.7" x2="181.7" y2="1184.7" stroke="#000" stroke-width="2.4"/>
<line x1="172.2" y1="1177" x2="181.7" y2="1177" stroke="#000" stroke-width="2.4"/>
<line x1="172.2" y1="1170.1" x2="181.7" y2="1170.1" stroke="#000" stroke-width="2.4"/>
<line x1="172.2" y1="1391.3" x2="181.7" y2="1391.3" stroke="#000" stroke-width="2.4"/>
<line x1="172.2" y1="1367.8" x2="181.7" y2="1367.8" stroke="#000" stroke-width="2.4"/>
<line x1="172.2" y1="1351" x2="181.7" y2="1351" stroke="#000" stroke-width="2.4"/>
<line x1="166.7" y1="1338.1" x2="181.7" y2="1338.1" stroke="#000" stroke-width="2.4"/>
<line x1="172.2" y1="1327.5" x2="181.7" y2="1327.5" stroke="#000" stroke-width="2.4"/>
<line x1="172.2" y1="1318.5" x2="181.7" y2="1318.5" stroke="#000" stroke-width="2.4"/>
<line x1="172.2" y1="1310.8" x2="181.7" y2="1310.8" stroke="#000" stroke-width="2.4"/>
<line x1="172.2" y1="1303.9" x2="181.7" y2="1303.9" stroke="#000" stroke-width="2.4"/>
<line x1="172.2" y1="1525.1" x2="181.7" y2="1525.1" stroke="#000" stroke-width="2.4"/>
<line x1="172.2" y1="1501.6" x2="181.7" y2="1501.6" stroke="#000" stroke-width="2.4"/>
<line x1="172.2" y1="1484.8" x2="181.7" y2="1484.8" stroke="#000" stroke-width="2.4"/>
<line x1="166.7" y1="1471.9" x2="181.7" y2="1471.9" stroke="#000" stroke-width="2.4"/>
<line x1="172.2" y1="1461.3" x2="181.7" y2="1461.3" stroke="#000" stroke-width="2.4"/>
<line x1="172.2" y1="1452.3" x2="181.7" y2="1452.3" stroke="#000" stroke-width="2.4"/>
<line x1="172.2" y1="1444.6" x2="181.7" y2="1444.6" stroke="#000" stroke-width="2.4"/>
<line x1="172.2" y1="1437.7" x2="181.7" y2="1437.7" stroke="#000" stroke-width="2.4"/>
<line x1="172.2" y1="1618.6" x2="181.7" y2="1618.6" stroke="#000" stroke-width="2.4"/>
<line x1="166.7" y1="1605.7" x2="181.7" y2="1605.7" stroke="#000" stroke-width="2.4"/>
<line x1="172.2" y1="1595.1" x2="181.7" y2="1595.1" stroke="#000" stroke-width="2.4"/>
<line x1="172.2" y1="1586.1" x2="181.7" y2="1586.1" stroke="#000" stroke-width="2.4"/>
<line x1="172.2" y1="1578.4" x2="181.7" y2="1578.4" stroke="#000" stroke-width="2.4"/>
<line x1="172.2" y1="1571.5" x2="181.7" y2="1571.5" stroke="#000" stroke-width="2.4"/>
<text transform="translate(90.9 1034.9) scale(1 1.042)" font-size="42">10<tspan font-size="26.5" dy="-12.3" dx="-0.3">6</tspan></text>
<text transform="translate(90.9 1169.2) scale(1 1.042)" font-size="42">10<tspan font-size="26.5" dy="-12.3" dx="-0.3">5</tspan></text>
<text transform="translate(90.9 1306.4) scale(1 1.042)" font-size="42">10<tspan font-size="26.5" dy="-12.3" dx="-0.3">4</tspan></text>
<text transform="translate(90.9 1439.8) scale(1 1.042)" font-size="42">10<tspan font-size="26.5" dy="-12.3" dx="-0.3">3</tspan></text>
<text transform="translate(90.9 1578.3) scale(1 1.042)" font-size="42">10<tspan font-size="26.5" dy="-12.3" dx="-0.3">2</tspan></text>
<line x1="182.8" y1="1632" x2="182.8" y2="1649" stroke="#000" stroke-width="4.6"/>
<line x1="231.8" y1="1632" x2="231.8" y2="1642" stroke="#000" stroke-width="2.4"/>
<line x1="260.4" y1="1632" x2="260.4" y2="1642" stroke="#000" stroke-width="2.4"/>
<line x1="280.8" y1="1632" x2="280.8" y2="1642" stroke="#000" stroke-width="2.4"/>
<line x1="296.5" y1="1632" x2="296.5" y2="1645" stroke="#000" stroke-width="2.4"/>
<line x1="309.4" y1="1632" x2="309.4" y2="1642" stroke="#000" stroke-width="2.4"/>
<line x1="320.3" y1="1632" x2="320.3" y2="1642" stroke="#000" stroke-width="2.4"/>
<line x1="329.7" y1="1632" x2="329.7" y2="1642" stroke="#000" stroke-width="2.4"/>
<line x1="338.1" y1="1632" x2="338.1" y2="1642" stroke="#000" stroke-width="2.4"/>
<line x1="345.5" y1="1632" x2="345.5" y2="1649" stroke="#000" stroke-width="4.6"/>
<line x1="396" y1="1632" x2="396" y2="1642" stroke="#000" stroke-width="2.4"/>
<line x1="425.5" y1="1632" x2="425.5" y2="1642" stroke="#000" stroke-width="2.4"/>
<line x1="446.5" y1="1632" x2="446.5" y2="1642" stroke="#000" stroke-width="2.4"/>
<line x1="462.7" y1="1632" x2="462.7" y2="1645" stroke="#000" stroke-width="2.4"/>
<line x1="476" y1="1632" x2="476" y2="1642" stroke="#000" stroke-width="2.4"/>
<line x1="487.2" y1="1632" x2="487.2" y2="1642" stroke="#000" stroke-width="2.4"/>
<line x1="496.9" y1="1632" x2="496.9" y2="1642" stroke="#000" stroke-width="2.4"/>
<line x1="505.5" y1="1632" x2="505.5" y2="1642" stroke="#000" stroke-width="2.4"/>
<line x1="513.2" y1="1632" x2="513.2" y2="1649" stroke="#000" stroke-width="4.6"/>
<line x1="563.2" y1="1632" x2="563.2" y2="1642" stroke="#000" stroke-width="2.4"/>
<line x1="592.4" y1="1632" x2="592.4" y2="1642" stroke="#000" stroke-width="2.4"/>
<line x1="613.2" y1="1632" x2="613.2" y2="1642" stroke="#000" stroke-width="2.4"/>
<line x1="629.3" y1="1632" x2="629.3" y2="1645" stroke="#000" stroke-width="2.4"/>
<line x1="642.5" y1="1632" x2="642.5" y2="1642" stroke="#000" stroke-width="2.4"/>
<line x1="653.6" y1="1632" x2="653.6" y2="1642" stroke="#000" stroke-width="2.4"/>
<line x1="663.2" y1="1632" x2="663.2" y2="1642" stroke="#000" stroke-width="2.4"/>
<line x1="671.7" y1="1632" x2="671.7" y2="1642" stroke="#000" stroke-width="2.4"/>
<line x1="679.3" y1="1632" x2="679.3" y2="1649" stroke="#000" stroke-width="4.6"/>
<line x1="730.1" y1="1632" x2="730.1" y2="1642" stroke="#000" stroke-width="2.4"/>
<line x1="759.8" y1="1632" x2="759.8" y2="1642" stroke="#000" stroke-width="2.4"/>
<line x1="780.9" y1="1632" x2="780.9" y2="1642" stroke="#000" stroke-width="2.4"/>
<line x1="797.2" y1="1632" x2="797.2" y2="1645" stroke="#000" stroke-width="2.4"/>
<line x1="810.6" y1="1632" x2="810.6" y2="1642" stroke="#000" stroke-width="2.4"/>
<line x1="821.9" y1="1632" x2="821.9" y2="1642" stroke="#000" stroke-width="2.4"/>
<line x1="831.7" y1="1632" x2="831.7" y2="1642" stroke="#000" stroke-width="2.4"/>
<line x1="840.3" y1="1632" x2="840.3" y2="1642" stroke="#000" stroke-width="2.4"/>
<line x1="848" y1="1632" x2="848" y2="1649" stroke="#000" stroke-width="4.6"/>
<text transform="translate(149.3 1702.2) scale(1 1.042)" font-size="42">10<tspan font-size="26.5" dy="-12.3" dx="-0.3">1</tspan></text>
<text transform="translate(313.3 1702.2) scale(1 1.042)" font-size="42">10<tspan font-size="26.5" dy="-12.3" dx="-0.3">2</tspan></text>
<text transform="translate(477.4 1702.2) scale(1 1.042)" font-size="42">10<tspan font-size="26.5" dy="-12.3" dx="-0.3">3</tspan></text>
<text transform="translate(645.2 1702.2) scale(1 1.042)" font-size="42">10<tspan font-size="26.5" dy="-12.3" dx="-0.3">4</tspan></text>
<text transform="translate(814.4 1702.2) scale(1 1.042)" font-size="42">10<tspan font-size="26.5" dy="-12.3" dx="-0.3">5</tspan></text>
<text transform="translate(190.8 1007.5) scale(1 1.042)" font-size="42">Q1</text>
<text transform="translate(190.8 1058.8) scale(1 1.042)" font-size="42">24.3</text>
<text transform="translate(841.5 1007.5) scale(1 1.042)" font-size="42" text-anchor="end">Q2</text>
<text transform="translate(841.5 1058.8) scale(1 1.042)" font-size="42" text-anchor="end">34.5</text>
<text transform="translate(190.8 1570.2) scale(1 1.042)" font-size="42">Q4</text>
<text transform="translate(190.8 1621.6) scale(1 1.042)" font-size="42">19.0</text>
<text transform="translate(841.5 1570.2) scale(1 1.042)" font-size="42" text-anchor="end">Q3</text>
<text transform="translate(841.5 1621.6) scale(1 1.042)" font-size="42" text-anchor="end">22.2</text>
<path d="M1315.7,1012L1323.8,1010.3L1337.8,1010.1L1341.8,1010.7L1343.8,1011.4L1351.8,1012L1355.8,1013.3L1363.8,1013.8L1367.8,1015.1L1371.8,1015.2L1399.8,1015L1401.8,1014.9L1403.8,1013.7L1405.8,1013.3L1423.8,1012.9L1485.8,1013.4L1491.8,1014.1L1493.8,1015.1L1497.8,1015.2L1503.8,1015.2L1505.8,1014.4L1511.8,1014.1L1523.8,1015.2L1529.8,1017.1L1535.8,1019.7L1543.8,1025.1L1554.7,1036L1569.9,1060L1579.8,1073.8L1589.8,1081.7L1613.8,1098L1621.8,1105.6L1627.8,1112.2L1631.9,1118L1640.6,1132L1658,1166L1668.4,1184L1671,1190L1672.9,1196L1674.7,1206L1673.2,1224L1670.3,1232L1669.4,1236L1664,1248L1662.7,1250L1662.2,1252L1660.8,1254L1660.3,1256L1658.8,1258L1658.4,1260L1656.9,1262L1656.5,1264L1655,1266L1654.6,1268L1653.1,1270L1652.5,1274L1651,1276L1650.7,1278L1649.1,1280L1648.6,1284L1647,1286L1646.7,1288L1645.1,1290L1644.7,1292L1643.1,1294L1642.8,1296L1641.2,1298L1640.6,1302L1639,1304L1638.6,1306L1637,1308L1636.6,1310L1635,1312L1634.6,1314L1633,1316L1632.5,1318L1630.9,1320L1630.4,1322L1628.9,1324L1628.3,1326L1626.8,1328L1626.2,1330L1624.7,1332L1624,1334L1620.6,1338L1619.8,1340L1612.5,1348L1611.8,1349.8L1609.9,1352L1585.8,1375L1577.8,1380.4L1569.8,1384.4L1561.8,1387.1L1553.8,1389.1L1541.8,1390.3L1535.8,1391.6L1523.8,1392.3L1519.8,1393.4L1511.8,1394.3L1473.8,1403.5L1461.8,1405.5L1451.8,1405.5L1443.8,1404.2L1433.8,1400.7L1417,1392L1407.8,1388.5L1397.8,1389.2L1395.8,1390.9L1393.8,1391.3L1392.7,1392L1388.6,1396L1384.3,1404L1382.4,1408L1381.5,1412L1380.4,1414L1377.3,1428L1376.4,1430L1375.6,1436L1373,1444L1369.2,1452L1366.4,1456L1363.5,1462L1360.5,1466L1355.7,1476L1352.6,1480L1349.8,1486L1346.7,1490L1343.8,1496L1340.7,1500L1337.7,1506L1330.5,1516L1327.5,1522L1314.6,1540L1307.8,1547.6L1297.8,1555.2L1291.8,1557.9L1283.8,1559L1273.8,1558.9L1267.8,1557.4L1257.8,1553.2L1247.8,1547.7L1243.8,1544.8L1237.8,1542.1L1233.8,1539L1231.8,1538.5L1229.8,1537L1227.8,1536.5L1225.8,1535.1L1223.8,1534.6L1221.8,1533.1L1219.8,1532.6L1217.8,1531.1L1215.8,1530.6L1213.8,1529.1L1211.8,1528.7L1209.8,1527.1L1207.8,1526.7L1205.8,1525.2L1201.8,1524.6L1199.8,1523.1L1195.8,1522.4L1193.8,1521.1L1189.8,1520.3L1187.8,1518.9L1183.8,1518L1175.8,1513.8L1171.8,1510.7L1165.8,1507.6L1159.8,1503.4L1151.8,1497L1146.6,1492L1141.3,1486L1135.7,1478L1133.5,1474L1128.9,1462L1127,1454L1126.5,1450L1126.3,1438L1126.7,1428L1128.8,1420L1131.2,1414L1136,1404L1140.9,1396L1146.7,1388L1155.8,1377.7L1158.1,1374L1163,1368L1171,1352L1172.1,1348L1175.1,1342L1178.3,1332L1189.1,1310L1190.1,1306L1194.1,1298L1197,1294L1197.7,1292L1200.7,1288L1201.1,1286L1202.5,1284L1202.6,1282L1202.4,1262L1200.8,1260L1200.4,1256L1198.7,1254L1198.4,1252L1196.8,1250L1196.4,1248L1194.8,1246L1194.4,1244L1192.7,1242L1192.4,1240L1188.8,1236L1188.4,1234L1187.8,1233.3L1180.7,1226L1177.8,1223.3L1175.8,1222.7L1167.8,1215.1L1165.8,1214.4L1163.8,1212.5L1146,1194L1142.7,1190L1138.9,1184L1134.9,1176L1130.1,1164L1128.9,1156L1129.5,1144L1131.4,1136L1132.9,1132L1139.6,1120L1143.7,1114L1147.3,1110L1158.4,1100L1167.8,1092.4L1169.8,1091.4L1175.8,1086.3L1177.8,1085.4L1181.8,1082.1L1183.8,1081.3L1187.8,1078.1L1189.8,1077.3L1193.8,1074.1L1199.8,1071.2L1201.8,1069.8L1203.8,1069.1L1207.8,1066L1213.8,1063.2L1215.8,1061.8L1217.8,1061.2L1219.8,1059.8L1221.8,1059.2L1223.8,1057.9L1227.8,1057L1229.8,1055.6L1231.8,1055.1L1237.8,1051.8L1241.8,1051L1243.8,1049.5L1245.8,1049L1247.8,1047.6L1249.8,1047.1L1251.8,1045.6L1257.8,1043.1L1259.8,1041.6L1261.8,1041.1L1263.8,1039.6L1265.8,1039L1271.8,1034L1273.8,1033.3L1277.8,1030.1L1279.8,1029.3L1285.8,1024.6L1291.8,1021.6L1295.8,1018.9L1299.8,1016.9L1305.8,1014.8ZM1420.9,1020L1439.8,1019.3L1451.8,1019.6L1467.8,1021.4L1487.8,1024.5L1499.8,1025.3L1503.8,1026L1508.7,1028L1522.7,1036L1539.8,1048.9L1552.5,1064L1575.8,1089.3L1591.8,1102.6L1613.8,1123L1623.8,1134.9L1630,1144L1639.1,1160L1643.8,1171.3L1651,1186L1653.9,1194L1657.2,1208L1658.2,1216L1658.3,1228L1656.9,1238L1651,1258L1641.7,1284L1632.5,1304L1623.8,1318.4L1612.6,1334L1605.8,1341.5L1599.8,1347.3L1589.8,1355L1573.8,1364.4L1565.8,1368L1559.8,1370.1L1537.8,1375.2L1509.8,1378.2L1491.8,1379.4L1473.8,1381.6L1459.8,1380.7L1443.8,1376.7L1435.8,1373.6L1421.8,1365.3L1417.8,1363.9L1413.8,1363.9L1405.8,1365.9L1399.6,1368L1396.2,1370L1394.4,1372L1392.5,1376L1391.8,1382.3L1389.8,1383.4L1387.8,1383.1L1383.8,1384.6L1379.8,1387.9L1375.5,1394L1372.7,1400L1369,1410L1358.4,1446L1353.6,1458L1345.4,1474L1333.8,1494.1L1327.8,1502.9L1315.8,1518.6L1309.8,1525.4L1303.8,1530.9L1297.8,1535L1287.8,1539.9L1281.8,1541.7L1275.8,1542.5L1269.8,1542.2L1261.8,1540.8L1247.8,1536.2L1225.8,1527.2L1197.8,1514.4L1182.4,1506L1171.8,1498.7L1163.8,1491.4L1155.7,1482L1151.3,1474L1148,1464L1145.4,1452L1144.2,1444L1144.1,1438L1144.6,1432L1145.6,1426L1147.7,1418L1150.5,1410L1154,1402L1157.4,1396L1167.8,1380.2L1171.8,1372.9L1179.3,1358L1196.9,1320L1207.1,1294L1209.1,1286L1209.6,1280L1208.9,1270L1206.9,1260L1203.8,1252L1197.5,1240L1192.3,1232L1187.8,1226.3L1172.2,1210L1165.5,1202L1158.8,1192L1151.6,1178L1148.8,1170L1146.8,1160L1146.8,1152L1148.5,1142L1150.1,1136L1152.3,1130L1157.1,1122L1173.5,1102L1179.8,1096L1187.2,1090L1199.8,1081.3L1217.8,1071L1261.8,1050.6L1283.8,1038.3L1297.8,1031.5L1305.8,1028.3L1315.8,1026.4L1341.8,1025.1L1361.8,1025.7L1379.8,1025.3L1393.8,1023.9L1411.8,1021ZM1421.2,1024L1439.8,1022.9L1449.8,1023.1L1469.8,1026.5L1489.8,1031.8L1493.8,1031.9L1499.8,1030.4L1501.8,1030.6L1504,1032L1509.8,1039.7L1517.8,1047.8L1521,1050L1531.8,1055.5L1535,1058L1543.7,1068L1553.8,1077L1559.8,1083L1569.3,1096L1571.8,1098.3L1583.8,1106.4L1589.8,1111.3L1599.8,1123L1617.8,1140L1621.8,1144.9L1625.2,1150L1631.8,1162L1637.6,1178L1645,1192L1647.2,1198L1649.6,1208L1650.4,1214L1651.6,1232L1650.9,1240L1645.7,1262L1639.1,1282L1629.8,1302L1625.8,1308.7L1619.8,1317L1607.8,1332.4L1601.8,1338.7L1595.8,1344L1589.8,1348L1581.8,1352.4L1565.8,1360.1L1557.8,1362.8L1533.8,1367.4L1509.8,1369L1505.8,1369.1L1493.8,1368L1481.8,1369.9L1477.8,1370.1L1467.8,1369.3L1457.8,1369.4L1451.8,1367.9L1435.8,1360.5L1431.8,1357.7L1421.8,1349.4L1417.8,1347.6L1409.8,1345.6L1407.3,1344L1405.6,1342L1399,1330L1389.5,1318L1384.7,1308L1380.7,1302L1377.8,1298.7L1375.8,1297.3L1373.8,1297L1371.8,1297.8L1370.3,1300L1369.9,1308L1372.3,1322L1373.1,1334L1375.7,1358L1376,1364L1375.5,1368L1372.8,1378L1354.7,1430L1353.2,1436L1351.5,1446L1349.8,1452L1345.6,1462L1339.8,1473.3L1327.5,1494L1310.1,1516L1305.8,1520.6L1297.8,1526.6L1287.8,1531.6L1279.8,1534.5L1273.8,1535.2L1267.8,1535L1261.8,1534.2L1247.8,1530.8L1227.8,1523.8L1215.8,1518.7L1206,1514L1185.8,1502.5L1176.5,1496L1166.1,1486L1160.1,1478L1158.1,1474L1156.2,1468L1153.2,1442L1153.6,1432L1156.4,1420L1162.2,1402L1173.8,1383L1185.7,1358L1194.4,1338L1203.8,1320L1212.9,1294L1214.2,1288L1214.6,1282L1213.7,1274L1210.9,1262L1208,1254L1202.9,1244L1198.2,1236L1192.7,1228L1172.3,1204L1168.5,1198L1165.6,1192L1157.9,1174L1154.9,1164L1154,1156L1155,1148L1157.8,1137L1161.9,1128L1177.1,1106L1182.6,1100L1189.8,1093.6L1201.8,1085.2L1222.1,1074L1231.8,1069.3L1259.8,1057.3L1283.8,1044.5L1295.8,1038.8L1303.8,1035.7L1309.8,1034.7L1317.8,1035.2L1331.8,1037.6L1335.8,1037.6L1349.8,1034.1L1361.8,1033.9L1371.8,1032.2L1383.8,1031L1411.8,1025.4ZM1420.9,1028L1439.8,1026.4L1449.8,1026.6L1469.8,1031.2L1473.8,1032.7L1480.3,1036L1489.7,1042L1493.6,1046L1495.8,1051.2L1497.3,1060L1498,1062L1499.8,1063.9L1503.8,1064.9L1519.8,1065.3L1523,1066L1525.8,1067.4L1534.2,1074L1543.8,1080.3L1549.8,1085.1L1554.8,1090L1562.3,1100L1566.3,1104L1581.8,1114.3L1586.3,1118L1589.7,1122L1599.8,1135.6L1615.8,1151.2L1619.7,1156L1622,1160L1628.8,1176L1640.1,1200L1643.7,1212L1646,1234L1645.7,1240L1642.7,1258L1639.8,1270L1636.7,1280L1633.3,1288L1627.8,1298.9L1619.8,1310.9L1605.8,1328.2L1599.8,1334.3L1593.8,1339.3L1585.8,1344.2L1577.8,1348.1L1565.8,1352.7L1557.8,1354.8L1545.8,1355.6L1527.8,1359.7L1521.8,1359.9L1509.8,1358.3L1497.8,1355.6L1493.8,1355.8L1485.8,1357.8L1481.8,1358.3L1477.8,1357.8L1467.8,1354.4L1463.8,1354.3L1457.8,1355.1L1453.8,1354.4L1443.8,1348.2L1433.8,1343.3L1419.6,1334L1406.1,1320L1403.4,1316L1398,1306L1393.8,1302.2L1382.6,1296L1377.8,1294L1373.8,1293.7L1369.8,1295.5L1367.4,1298L1366.4,1300L1365.2,1304L1364.4,1310L1364.7,1326L1365.6,1340L1365.9,1362L1364.7,1366L1360.7,1374L1359.3,1378L1358.3,1384L1358.1,1394L1357.2,1400L1352.6,1416L1346,1434L1343,1452L1340.2,1460L1336.2,1468L1329.6,1480L1324.5,1488L1321.4,1492L1313.8,1500.3L1303.8,1514.1L1297.8,1518.9L1285.8,1525.1L1279.8,1527.3L1271.8,1528.7L1261.8,1528.5L1249.8,1526.4L1231.8,1521.1L1213.8,1513.8L1201.8,1507.4L1181.8,1494.5L1172.6,1486L1166.2,1478L1164.2,1474L1162.9,1470L1161.6,1462L1159.9,1440L1160.3,1434L1161.5,1428L1163.6,1422L1167.4,1414L1170.4,1402L1179.5,1386L1199.2,1340L1206.6,1328L1209.5,1322L1216.3,1304L1220.1,1290L1220.8,1284L1220.6,1280L1219.2,1274L1213.2,1258L1208.5,1248L1202.7,1238L1196.1,1228L1179.7,1208L1175.6,1202L1173.5,1198L1169,1184L1162.9,1168L1161.5,1160L1161.9,1154L1164.9,1140L1167.1,1134L1179,1112L1184.9,1104L1191.8,1097.3L1199.8,1091.3L1205.8,1087.7L1229.8,1075L1263.8,1062.1L1283.8,1050.8L1299.8,1044L1303.8,1042.7L1309.8,1042.4L1327.8,1045.6L1335.8,1045.6L1347.8,1042.5L1361.8,1041.6L1375.8,1038.1L1387.8,1036.7L1407.8,1030.6ZM1436.2,1030L1445.8,1029.4L1451.8,1030.1L1465.8,1034.3L1473.3,1038L1475.8,1040L1479.5,1044L1484.3,1054L1487.8,1060L1492.1,1066L1495.8,1069.7L1501.8,1073.4L1515.8,1080L1531.8,1084.8L1538,1088L1543.3,1092L1565.8,1112.3L1571.8,1116.9L1579.8,1121.9L1584.3,1126L1587.2,1130L1595.1,1144L1603.8,1155L1609.8,1161.5L1614.3,1170L1621.8,1178.5L1624.3,1182L1627.2,1188L1632.6,1204L1637.2,1214L1638.4,1218L1640.4,1230L1641.1,1238L1639.2,1256L1636,1272L1634.3,1278L1632,1284L1623.8,1299.4L1617.8,1307.7L1609.8,1316.6L1601.8,1326.5L1593.8,1333L1579.8,1341L1571.8,1344.1L1559.8,1347L1555.8,1347.1L1545.8,1345.8L1521.8,1344.8L1510.3,1342L1505.8,1341.6L1497.8,1342.7L1493.4,1344L1485.8,1347.3L1479.8,1348.2L1475.8,1347.5L1465.8,1344.5L1455.8,1342.5L1451.8,1340.7L1437.8,1332.6L1427.8,1325.5L1423.8,1321.7L1418.4,1314L1409.8,1306.6L1401.8,1297.2L1397.8,1294.1L1387.8,1289.1L1381.8,1287.2L1375.8,1287.7L1371.8,1289.1L1367.8,1291.3L1362.4,1296L1361.1,1298L1359.6,1302L1356,1322L1355.9,1326L1356.6,1336L1354.8,1356L1349.8,1369.4L1344.8,1380L1344.8,1386L1347.3,1396L1347.7,1400L1347.3,1408L1346.5,1414L1339.3,1434L1336.3,1452L1335.2,1456L1333.5,1460L1327.8,1469.5L1322.4,1480L1317.2,1488L1303.8,1505.3L1299.8,1509.7L1291.8,1514.9L1279.8,1520.8L1271.8,1523.1L1265.8,1523.6L1253.8,1522.8L1241.8,1520.2L1223.8,1514.2L1211.8,1508.8L1203.4,1504L1188.2,1494L1183,1490L1175.5,1482L1170.7,1474L1168.5,1466L1167,1448L1167,1436L1168.2,1428L1169.7,1424L1175.4,1414L1178.4,1402L1185.8,1388L1190.1,1374L1198.1,1354L1204,1342L1212.3,1330L1216.9,1318L1221.6,1308L1225.6,1292L1226.5,1284L1226,1278L1224.2,1272L1212.2,1248L1197.8,1225.5L1182,1206L1177.6,1198L1174.4,1184L1169.8,1170L1168.9,1164L1168.9,1158L1171.9,1142L1174.5,1134L1182.5,1116L1186,1110L1190.9,1104L1197.2,1098L1202.7,1094L1217.8,1086.5L1231.8,1078.6L1265.8,1067.5L1271.8,1064.7L1281.8,1058.4L1287.8,1055.3L1293.8,1052.9L1299.8,1051.3L1309.8,1049.8L1327.8,1050.6L1333.8,1050.5L1347.8,1048.2L1361.8,1047.2L1377.8,1043.6L1389.8,1042.9L1395.8,1041.1L1405.7,1036L1411.8,1033.7L1421.8,1031.6ZM1428.3,1034L1441.8,1032.6L1449.8,1032.9L1460.2,1036L1467.6,1040L1470.1,1042L1473.3,1046L1474.8,1050L1476.3,1058L1478.1,1062L1485.8,1071.3L1493.8,1079.2L1497.8,1081.7L1503.3,1084L1523.8,1090.7L1527.8,1092.5L1531.8,1095.4L1538.7,1102L1549.8,1108.1L1555.8,1112.4L1567.8,1123.8L1575.8,1129.3L1578.8,1132L1581.6,1136L1589.6,1150L1596.8,1164L1608.4,1178L1615.8,1184.2L1619.8,1188.7L1622.3,1194L1627.2,1208L1632.1,1218L1635.9,1232L1636.8,1242L1636,1254L1632.4,1274L1630.6,1280L1626.8,1288L1620.9,1298L1615.8,1304.8L1601.8,1320.6L1597.8,1324.5L1591.8,1328.5L1581.8,1333.7L1575.8,1335.9L1569.8,1337.5L1563.8,1338.6L1557.8,1339.1L1539.8,1338.2L1519.8,1334.1L1509.8,1333.3L1503.8,1333.3L1493.8,1335.3L1481.8,1340.5L1477.8,1341.2L1471.4,1340L1466.8,1338L1463.6,1336L1459,1332L1453.6,1326L1450.9,1322L1447.8,1314.9L1445.8,1312.9L1443.8,1311.8L1435.8,1309.2L1425.8,1304.2L1415.8,1300L1411.8,1296.4L1405.8,1288L1401.8,1284.9L1383.8,1277.7L1379.8,1277.2L1377.8,1277.5L1373.8,1279L1359.8,1288L1355.4,1292L1352.3,1298L1348.4,1312L1344,1322L1343.4,1326L1343.6,1334L1340.3,1344L1341.1,1352L1340.9,1356L1339.3,1362L1335.8,1371.3L1334.8,1376L1335.1,1382L1338.4,1394L1338.6,1414L1337.9,1418L1333.3,1434L1330.7,1450L1328.2,1458L1317.5,1478L1309.9,1490L1299.8,1502.6L1293.8,1507.5L1285.8,1512.3L1277.8,1515.9L1269.8,1518.1L1257.8,1518.5L1247.8,1517.7L1235.8,1514.4L1217.8,1507.7L1205.8,1501.1L1190.1,1490L1183.7,1484L1180.6,1480L1178.3,1476L1176.7,1472L1175.4,1466L1174,1448L1173.8,1436L1174.9,1428L1181.3,1416L1184,1406L1185.6,1402L1191.6,1392L1193.4,1388L1196.4,1374L1201.8,1357.2L1207.8,1345.4L1217,1334L1219,1330L1221.8,1321.6L1227,1312L1229.1,1304L1231.2,1286L1230.7,1278L1229.3,1272L1216.1,1248L1198.9,1222L1185.5,1206L1183.1,1202L1181.3,1198L1178.6,1184L1176.2,1174L1175.4,1168L1175.7,1162L1178.9,1142L1182.1,1132L1187.8,1118L1191.4,1112L1199.6,1102L1201.8,1099.8L1205.8,1097.1L1217.8,1091.9L1233.8,1082.4L1247.8,1078.4L1267.8,1071.6L1275.8,1068L1287.8,1061.3L1295.8,1058.3L1317.8,1055.7L1331.8,1055.2L1347.8,1053.4L1359.8,1053L1377.8,1049.1L1391.8,1048.2L1398.1,1046L1409.8,1039L1413.8,1037.1L1419.8,1035.4ZM1437.3,1036L1443.8,1035.4L1449.8,1035.8L1455.8,1037.5L1461.8,1040.9L1465,1044L1467.1,1048L1467.6,1052L1467.1,1062L1468.7,1068L1471.8,1073L1483.3,1086L1485.8,1088.1L1489.8,1090.4L1493.8,1091.6L1505.8,1093.5L1519.8,1098.8L1523.8,1101.1L1531.8,1107.2L1543.8,1113L1549.8,1116.6L1555.8,1121.1L1568.6,1134L1579.8,1147.6L1582.8,1152L1588.1,1164L1591.8,1170.1L1601.8,1182.3L1611.8,1190.6L1615.8,1195.2L1628,1222L1632.1,1236L1633.1,1246L1632.4,1256L1629,1276L1626.8,1282L1621.2,1292L1617.2,1298L1610.5,1306L1599.8,1317.5L1595.8,1321.1L1589.8,1325L1581.8,1328.6L1565.8,1332.2L1557.8,1332.7L1537.8,1331.4L1513.8,1327L1505.8,1326.3L1487.8,1328.6L1483.8,1330L1477.8,1333.4L1473.8,1334.2L1469.8,1333.3L1468,1332L1466.6,1330L1461.7,1312L1460,1308L1457.8,1305.2L1453.8,1302.6L1441.1,1298L1434,1294L1419.6,1280L1414.2,1276L1407.8,1274.1L1395.8,1273.4L1383.8,1269.3L1379.8,1268.4L1375.8,1268.4L1371.8,1269.1L1364.5,1272L1359.8,1275.7L1349.8,1287.1L1339.8,1303.1L1331.8,1313.9L1330.3,1318L1330,1322L1330.4,1332L1327.4,1346L1327.4,1350L1329,1362L1327.2,1378L1327.8,1382L1331.3,1392L1331.6,1396L1330.7,1404L1330.2,1420L1326.1,1444L1324.2,1454L1320.9,1462L1313.4,1476L1307.8,1485.1L1304.2,1490L1295.8,1500L1290.8,1504L1281.8,1509.2L1271.8,1512.3L1255.8,1514L1247.8,1513.7L1241.8,1512.2L1221.8,1505.5L1209.8,1499.3L1196.9,1490L1188.7,1482L1185.7,1478L1183.5,1474L1181.4,1466L1179.7,1446L1179.6,1438L1180.6,1430L1182.1,1426L1186.2,1418L1190.1,1406L1197.7,1394L1199.5,1390L1206.9,1362L1209.8,1354.7L1213.8,1347.7L1223,1338L1226.2,1334L1228.5,1330L1233.1,1320L1235.8,1310L1236.8,1300L1236.3,1280L1235,1274L1233.3,1270L1217.7,1244L1199.8,1218.3L1187.8,1204L1184.8,1198L1180.9,1176L1180.4,1170L1181,1164L1185.5,1140L1193,1120L1195.8,1115.6L1203.8,1106L1208.4,1102L1217.8,1097.3L1229.8,1089.7L1235.8,1086.6L1249.8,1082.6L1269.8,1075.7L1289.8,1066.1L1295.8,1064.1L1309.8,1063L1323.8,1060.8L1347.8,1058.9L1359.8,1058.9L1375.8,1055.4L1391.8,1053.6L1395.8,1052.5L1401.8,1049.8L1412.8,1042L1417.8,1039.3L1423.8,1037.6ZM1426.6,1040L1445.8,1038.3L1451.8,1039.2L1457.8,1041.8L1460.1,1044L1461.2,1046L1461.7,1050L1460.7,1054L1456.6,1064L1455.6,1070L1453.9,1076L1453.7,1078L1454.2,1080L1457.1,1082L1461.8,1083.1L1465.8,1084.9L1469.3,1088L1473.8,1093.8L1475.8,1095.4L1479.8,1096.8L1501.8,1101.3L1539.8,1118L1547.8,1122.6L1551.8,1125.4L1563.2,1138L1575.9,1154L1583.6,1168L1593.8,1183.4L1597.8,1188L1607.8,1196.9L1611.8,1201.2L1615.8,1207.2L1621.3,1218L1627.3,1234L1628.8,1240L1629.6,1246L1629.3,1256L1627.4,1270L1626.2,1276L1622.8,1284L1615.8,1295.1L1604.7,1308L1595.8,1316.5L1589.8,1320.7L1581.8,1324.3L1567.8,1327.2L1559.8,1327.8L1547.8,1325.8L1527.8,1323.9L1509.8,1319.3L1493.8,1320.3L1481.8,1318L1473.8,1318.4L1471.8,1316.7L1470.7,1314L1468.5,1302L1467.1,1298L1465.8,1295.6L1460.1,1288L1456.1,1280L1455.6,1278L1455.7,1276L1456.7,1274L1462.2,1266L1463.1,1264L1463.1,1262L1460.9,1258L1457.4,1254L1455,1252L1451.8,1250.5L1447.8,1250L1443.8,1250.9L1435.8,1256.1L1429.8,1258.6L1423.8,1259.5L1415.8,1258.8L1411.8,1259L1403.8,1261.9L1399.8,1262.8L1395.8,1262.7L1385.8,1259.3L1379.8,1258.5L1369.8,1259.6L1359.8,1262.2L1355.8,1264.5L1352.3,1268L1346.8,1278L1341.8,1284L1335.8,1288.8L1325.8,1295.2L1323.8,1297.7L1322.2,1302L1320.5,1314L1321.2,1328L1320.5,1332L1318.1,1340L1317.7,1346L1318.3,1354L1320.3,1366L1320.4,1380L1323.9,1392L1324.1,1398L1323.3,1406L1323.6,1424L1323.3,1430L1319.4,1452L1317.1,1460L1312.1,1470L1302,1486L1291.8,1497.7L1283.8,1503.3L1279.8,1505.1L1273.8,1506.8L1253.8,1509.8L1247.8,1509.6L1239.8,1507.5L1221.8,1501.4L1215.8,1498.6L1209.8,1495L1201.8,1489L1196.4,1484L1191.4,1478L1189,1474L1187.4,1470L1186.4,1466L1184.8,1452L1184.5,1438L1185.9,1430L1191.3,1418L1194.7,1408L1204.4,1392L1221,1352L1225.4,1346L1236,1336L1239.5,1330L1242.6,1320L1244.9,1306L1246,1288L1244.7,1282L1238.8,1270L1230.1,1258L1221.9,1244L1211.8,1231.1L1201.7,1216L1191.4,1204L1188.1,1198L1186.5,1192L1185.7,1186L1184.9,1170L1190.5,1140L1194.5,1128L1197.1,1122L1199.8,1118L1205.8,1111.2L1211.8,1106L1219.8,1101.4L1229.8,1094.6L1235.8,1091.5L1265.8,1082.6L1275.8,1078.6L1289.8,1071.8L1297.8,1069.4L1327.8,1066.1L1347.8,1064.9L1359.8,1064.9L1373.8,1062.2L1385.8,1060.8L1393.8,1059.1L1399.8,1057.1L1405.8,1053.9L1409.8,1050.7L1414,1046L1417.8,1042.8L1421.8,1040.9ZM1431.8,1042L1441.8,1041.1L1447.8,1041.2L1455.8,1043.6L1457.9,1046L1458.2,1048L1457.6,1050L1455.8,1052.3L1445.9,1060L1438.7,1070L1436.9,1074L1437.1,1078L1441.4,1088L1442.6,1092L1442.9,1096L1442.6,1100L1443.5,1102L1451.8,1104.7L1461.2,1112L1465.2,1114L1467.8,1114.7L1473.8,1114.3L1485.8,1109.6L1489.8,1108.5L1493.8,1108.2L1499.8,1109.3L1513.8,1115.1L1531.8,1121L1539.8,1124.7L1547.8,1130.1L1556.5,1140L1570,1158L1581.8,1176L1588.5,1188L1597.8,1198.4L1609.8,1208.2L1613.8,1213.3L1617.4,1220L1623.8,1236.5L1625.3,1242L1626.4,1248L1626.4,1254L1625,1268L1623.9,1274L1621.8,1279.9L1618.6,1286L1613.2,1294L1599.8,1309L1593.8,1313.9L1587.8,1317.6L1583.8,1319.5L1577.8,1321.2L1565.8,1323.1L1559.8,1323.1L1527.8,1317.5L1523.3,1316L1515.8,1312.3L1511.8,1311.1L1507.8,1311L1495.8,1312.2L1493.8,1311.9L1489.8,1310.4L1486.5,1308L1484.9,1306L1483.9,1304L1483.2,1300L1483.6,1294L1485.8,1278L1485.2,1256L1486.7,1244L1486.7,1240L1486.4,1236L1485.5,1232L1483.3,1228L1475.6,1220L1472.5,1216L1471.5,1212L1472.7,1202L1472.6,1200L1471.8,1197.3L1469.8,1195.7L1461.8,1195.3L1457.8,1194.2L1455.8,1192.6L1452.7,1188L1449.8,1184.7L1445.8,1182.7L1441.8,1182.4L1437.8,1183.5L1434.5,1186L1432.4,1190L1432.3,1194L1433.8,1198.1L1441.3,1208L1447,1218L1448.3,1222L1448.7,1226L1447.9,1230L1446.8,1232L1444.5,1234L1427.8,1243.8L1423.8,1244.3L1411.8,1243.6L1401.8,1246.8L1399.8,1246.8L1391.8,1245L1385.8,1245.1L1375.8,1247.6L1363.8,1251.4L1355.8,1254.9L1348.3,1260L1344,1264L1337.8,1271.4L1335.8,1272.8L1331.8,1274.2L1323.8,1275.4L1319.8,1277L1317.8,1278.5L1315.1,1282L1313.4,1286L1312.4,1290L1310.1,1314L1310.8,1322L1310.9,1326L1307.7,1336L1307.3,1342L1311.1,1362L1315.3,1390L1315.2,1406L1317.7,1426L1317.7,1432L1314.1,1454L1312.6,1460L1307.7,1470L1303.1,1478L1298.9,1484L1289.8,1494.2L1285.8,1497.3L1281.8,1499.5L1277.8,1501.1L1271.8,1502.5L1255.8,1505.3L1249.8,1505.6L1241.8,1504.2L1231.8,1501.2L1223.8,1498.4L1215.8,1494.6L1208.8,1490L1201.8,1484.1L1198,1480L1193.9,1474L1192.1,1470L1190.9,1466L1189,1454L1188.9,1438L1190.4,1430L1195,1420L1198.9,1410L1201,1406L1215.8,1382.3L1222.7,1374L1230.6,1362L1233.8,1352L1234.9,1350L1243.6,1340L1245.8,1336.5L1250.5,1322L1253.8,1308L1256.7,1302L1261.8,1294.6L1263,1290L1262.4,1286L1259.8,1282L1251.8,1276.1L1247.8,1272.5L1234.6,1258L1224.6,1242L1213.8,1229.2L1203.8,1214L1193.8,1202L1190.7,1196L1189,1190L1188.4,1186L1189.6,1170L1193,1156L1194.2,1144L1195.3,1138L1198.5,1128L1200.6,1124L1203.6,1120L1211.8,1111.8L1221.8,1105.4L1229.8,1099.4L1237.8,1095.4L1245.8,1093L1263.8,1089.2L1291.8,1077.1L1301.8,1074.1L1313.8,1072.6L1337.8,1070.9L1361.8,1070.9L1383.8,1068.2L1405.8,1063.3L1409.8,1061.6L1411.8,1059.9L1414.3,1056L1417,1048L1418.3,1046L1419.8,1044.7L1423.8,1043.1ZM1425.2,1046L1439.8,1045.5L1445.8,1044.7L1447.8,1044.9L1452.6,1046L1453.5,1048L1449.8,1048.6L1445.8,1048.4L1441.8,1048.2L1437.8,1048.9L1431.8,1052.9L1429.8,1053.6L1427.8,1053.8L1425.8,1053.2L1421.8,1049.9L1421.4,1048L1421.8,1047.5ZM1339.2,1076L1345.8,1075.9L1361.8,1077L1381.8,1077.2L1397.8,1075.5L1401.8,1076.3L1403.8,1077.2L1407.8,1080.1L1414.1,1086L1421.8,1094.5L1423.8,1098.6L1427.8,1112.9L1429.8,1117.8L1431.8,1120.8L1433.8,1122.2L1441.8,1123.7L1445.6,1126L1448.8,1130L1453.8,1138.9L1455.8,1141.1L1460.2,1144L1462.4,1146L1463.1,1148L1463.2,1150L1462.5,1154L1460.9,1158L1457.8,1161.3L1455.8,1162L1453.8,1162.1L1445.8,1161.6L1441.8,1163.4L1429.8,1176.7L1427.8,1179.5L1421.8,1190.8L1415.7,1200L1413.6,1204L1412.8,1208L1413.8,1214L1413.6,1216L1411.7,1218L1407.8,1220.5L1399.8,1227.2L1395.8,1229.7L1389.8,1232.3L1375.8,1236.7L1363.8,1239.7L1359.8,1241.3L1355.8,1243.7L1347.8,1250.4L1341.8,1254.4L1335.8,1257.3L1325.8,1260.8L1317.8,1265.2L1307.8,1269.9L1305.6,1272L1304.5,1274L1301.8,1284.2L1296.2,1296L1296.3,1300L1297.9,1306L1298.2,1310L1294.9,1326L1294.3,1332L1295.4,1340L1301.3,1360L1306,1382L1306.6,1388L1306,1398L1306.5,1408L1307.6,1414L1310.7,1424L1311.9,1430L1311.9,1436L1309,1458L1305.8,1466L1299.1,1478L1292.9,1486L1285.8,1492.7L1281.8,1495.1L1277.8,1496.8L1269.8,1498.8L1253.8,1501.4L1249.8,1501.5L1243.8,1500.9L1237.8,1499.5L1227.8,1496.1L1217.8,1491.9L1209.1,1486L1204.7,1482L1201.2,1478L1196.5,1470L1195,1466L1193.5,1460L1192.6,1450L1192.7,1438L1193.2,1434L1195.3,1428L1203.7,1410L1211.8,1398.2L1219.8,1389.3L1223.8,1386.1L1230.3,1382L1237.8,1373.8L1245.8,1368L1247.8,1366L1248.9,1364L1249.8,1360L1249.3,1352L1249.8,1348L1254.1,1338L1256.8,1328L1261.3,1314L1263.5,1310L1269.9,1302L1272.2,1298L1277.8,1280.4L1279.8,1278.9L1282.1,1278L1283.9,1276L1283,1274L1281.8,1273.5L1275.8,1274.5L1267.8,1270.7L1257.8,1269.3L1253.8,1268.3L1249.8,1266.7L1245.8,1264L1237.8,1255.6L1227.2,1240L1216.3,1228L1206.1,1212L1195.1,1198L1191.6,1190L1190.8,1186L1190.8,1184L1199,1158L1199.3,1154L1198.9,1142L1199.6,1134L1201.3,1130L1203.8,1126.1L1211.8,1117.7L1215.8,1114.4L1223.8,1109.2L1231.8,1103.1L1237.8,1099.9L1247.8,1097.1L1259.8,1095.5L1263.8,1094.6L1285.8,1084.8L1301.8,1079.4L1315.8,1077.2ZM1490.5,1120L1493.8,1118.6L1495.8,1118.3L1499.8,1118.8L1531.8,1127.3L1537.8,1130L1541.8,1132.8L1546.7,1138L1561.7,1162L1573.8,1177.5L1575.8,1180.8L1580.1,1190L1581.8,1192.4L1593,1204L1601.8,1209.3L1605.8,1212.2L1609.4,1216L1612.1,1220L1616.1,1228L1619.8,1236.8L1622.6,1246L1623.3,1252L1622.4,1268L1620.5,1276L1615.7,1286L1611.5,1292L1607.8,1296.4L1599.8,1305.2L1595.8,1308.6L1587.8,1313.5L1579.8,1316.7L1567.8,1318.5L1557.8,1318.1L1529.8,1311.8L1525.8,1309.9L1515.8,1303.6L1503.8,1299.1L1500.7,1296L1498.7,1290L1495.8,1274L1494.9,1266L1495.2,1260L1497.9,1252L1498.5,1248L1497.7,1230L1495.8,1224L1489.8,1215.5L1487.4,1210L1483.9,1184L1483.9,1178L1485.4,1168L1485.1,1162L1483.8,1157.7L1478.4,1148L1477.5,1144L1478.7,1140L1483.8,1132.8L1485.6,1126L1486.5,1124L1488.1,1122ZM1315.2,1082L1319.8,1081.5L1345.8,1081L1359.8,1082.4L1381.8,1085.3L1395.8,1085.4L1399.8,1086.8L1401.8,1088.1L1405.8,1092.2L1417.8,1109.8L1420.2,1116L1423.6,1132L1425.8,1136.6L1429.2,1142L1429.5,1144L1423.5,1162L1417,1174L1414.2,1182L1411.8,1186L1405.2,1194L1401.8,1199.3L1398.8,1206L1396.5,1214L1393.8,1218.3L1389.8,1220.8L1373.8,1226.8L1361.8,1227.8L1353.8,1230.4L1348.1,1234L1342.7,1242L1338.6,1246L1335.1,1248L1323.8,1252.6L1315.8,1256.5L1309.8,1258.1L1305.8,1258.1L1299.8,1257.2L1289.8,1255.3L1275.8,1255.3L1271.2,1256L1260.6,1260L1253.8,1260.3L1250.9,1260L1247.1,1256L1241.8,1252L1237.8,1248L1233.9,1242L1228.8,1236L1221.8,1230.2L1219.9,1228L1207.3,1208L1197.7,1196L1195.4,1192L1193.2,1186L1193.8,1183.1L1198.5,1178L1202.1,1172L1204.7,1166L1205.7,1162L1205.7,1154L1202.2,1136L1202.5,1134L1203.8,1131.6L1207.8,1127.1L1215.8,1119.9L1227.8,1111.8L1235.4,1106L1239.8,1103.7L1249.8,1101.1L1253.8,1100.7L1259.8,1101.1L1266.5,1100L1293.8,1086.9L1301.8,1084.5ZM1505.3,1130L1509.8,1129.3L1513.8,1129.3L1527.8,1131.7L1534.7,1134L1537.8,1136L1539.8,1138L1543.5,1144L1545.4,1150L1547.8,1161.1L1549.8,1165.5L1554.7,1174L1557.8,1184L1558.9,1186L1560.7,1188L1567.8,1192.5L1573.8,1198L1579.1,1202L1585.4,1208L1591.8,1212.2L1597.8,1215.3L1601.2,1218L1604.6,1222L1607.8,1227.9L1615.9,1240L1619.1,1250L1619.8,1264L1617.8,1274.6L1613.3,1284L1607.6,1292L1596.7,1304L1589.8,1308.2L1581.5,1312L1577.8,1312.7L1567.8,1313.3L1555.8,1312.4L1549.8,1311.4L1537.4,1308L1529.8,1305L1526,1302L1520.1,1296L1517.2,1292L1511.4,1266L1510.1,1244L1507.8,1236L1506.8,1224L1504.3,1214L1503.7,1210L1504.6,1206L1505.6,1204L1512.9,1196L1514.2,1194L1514.4,1192L1512.9,1190L1511.8,1189.5L1503.8,1188.6L1501.8,1187.9L1499.7,1186L1499.1,1184L1499.2,1182L1502.4,1174L1502.5,1170L1500.9,1166L1496.6,1158L1494.5,1152L1493.8,1148L1494.2,1144L1497.8,1137L1501.7,1132ZM1541.8,1203.8L1540.8,1204L1539.9,1206L1543.5,1206L1545.8,1204.6L1547.8,1204.3L1549.8,1204L1547.8,1203.1ZM1277.6,1308L1279.8,1307.1L1281.8,1307.1L1283.9,1308L1285.8,1310L1286.7,1312L1286.8,1316L1285.4,1324L1285.2,1328L1286.5,1346L1285.9,1358L1286.7,1362L1290.6,1374L1292.5,1386L1297.1,1400L1299.7,1412L1305.1,1426L1306.7,1432L1307,1438L1304.9,1458L1301.8,1465.8L1296.4,1476L1293.8,1479.8L1287.8,1486.6L1283.8,1489.7L1279.8,1492L1271.8,1494.6L1261.8,1496.5L1251.8,1497.5L1241.8,1496.9L1232.2,1494L1221.8,1490.2L1214.5,1486L1207.5,1480L1202.9,1474L1198.9,1466L1196.3,1456L1196.1,1440L1196.8,1434L1199,1428L1206,1414L1209.8,1408L1213.8,1403.3L1217.8,1399.7L1223.8,1395.3L1233.8,1389.6L1237.8,1386.8L1251.8,1374.6L1255.5,1370L1257.6,1364L1258,1352L1258.9,1348L1263.2,1338L1267.2,1326L1272.2,1314L1275,1310ZM1335,1086L1345.8,1086L1360.6,1088L1389.8,1093.6L1393.8,1095.1L1395.8,1096.5L1408.4,1112L1410.8,1116L1412.3,1120L1414.9,1138L1415.4,1144L1414.8,1152L1413.2,1160L1411.5,1164L1401.2,1180L1392,1192L1385.1,1206L1381.8,1209.5L1375.8,1212.3L1361.8,1216.9L1339.8,1226.7L1335.9,1230L1331.8,1236.9L1329.3,1240L1325.8,1242.4L1321.9,1244L1315.8,1244.9L1305.8,1242.7L1299.8,1241.9L1295.8,1242L1287.8,1243.1L1277.8,1243.5L1269.8,1241.7L1255.8,1236.7L1245.8,1230.8L1235.8,1227.9L1230.9,1226L1227.4,1224L1225.6,1222L1221.6,1212L1218.4,1206L1211.8,1197.4L1205,1190L1204,1188L1204.1,1186L1204.9,1184L1211.4,1172L1212.8,1166L1212.9,1162L1211.6,1148L1211.2,1134L1213.2,1130L1218.4,1124L1223.7,1120L1231.8,1115.8L1236.2,1112L1241.8,1108.3L1245.8,1107.6L1249.8,1107.8L1251.8,1107.5L1261.8,1105L1269.8,1102.1L1293.8,1091.4L1299.8,1089.4L1317.8,1086.4ZM1514.9,1136L1517.8,1135.8L1529.8,1137.1L1532.4,1138L1535.8,1140.3L1537.8,1143.7L1538.5,1146L1539.1,1152L1537.8,1155.3L1535.8,1156L1525.8,1151.1L1521.8,1149.6L1519,1150L1515.8,1152.4L1511.8,1158.8L1509.8,1159.6L1507.8,1158.3L1505.8,1153.9L1504.8,1150L1504.8,1146L1505.4,1144L1507.8,1140.4L1509.8,1138.5ZM1528.4,1164L1533.8,1162.5L1534.5,1164L1534,1166L1531.8,1168.2L1529.8,1169.2L1527.8,1169.5L1524.7,1168L1525.4,1166ZM1565,1212L1573.8,1211.7L1577.8,1212.4L1581.8,1213.9L1589.8,1218.5L1593.8,1221.9L1597.8,1226.2L1607,1238L1609.9,1244L1611.1,1250L1611.9,1264L1611.4,1268L1610.3,1272L1606.2,1282L1601,1290L1593.9,1298L1587.8,1301.9L1579.8,1305L1571.8,1306.3L1565.8,1306.4L1555.8,1306L1548.2,1304L1539.7,1300L1536.9,1298L1532.9,1294L1527,1286L1524.4,1280L1518.8,1258L1517.7,1250L1518.6,1232L1520,1228L1523.3,1224L1529.8,1220.4L1537.8,1217.3L1555.8,1213.3ZM1274.5,1338L1275.8,1337.6L1277,1344L1275.8,1348.4L1273.4,1352L1271.8,1352.8L1270.6,1350L1270.4,1348L1271.8,1342.7L1273.8,1338.2ZM1269.4,1364L1269.8,1362.6L1271.8,1362.5L1273.4,1368L1273.6,1370L1272.8,1376L1273.3,1378L1289,1404L1300.4,1432L1301,1436L1301,1442L1298.5,1456L1289.3,1478L1285.8,1482.8L1279.8,1487.2L1277.8,1488L1271.8,1489.3L1261.8,1490.7L1255.8,1492.3L1251.8,1492.9L1245.8,1492.4L1235.8,1488.9L1223.8,1486.3L1217.8,1483.8L1211.8,1479.2L1207.1,1474L1201.8,1463.1L1200.1,1456L1200,1436L1201.8,1430.9L1206.9,1422L1209.6,1416L1212.3,1412L1215.8,1408L1221.8,1403.8L1227.8,1400.5L1239.8,1395L1249.8,1391.4L1255.4,1388L1259.5,1384L1264.6,1378L1267.6,1372ZM1311,1092L1321.8,1091L1337.8,1090.6L1343.8,1091L1373.8,1096.9L1379.8,1099L1385.8,1101.8L1389.8,1104.5L1395.8,1109.9L1397.8,1112.1L1400.2,1116L1401.5,1120L1402.8,1130L1405.3,1140L1406.1,1146L1405.6,1150L1403.5,1156L1398.7,1166L1391.8,1177.8L1387.8,1182.6L1381.4,1188L1375.3,1194L1363.8,1201.8L1355.8,1209.2L1351.8,1212L1347.8,1213.6L1337.8,1215.9L1324.6,1220L1321.3,1222L1314.8,1228L1311,1230L1305.8,1230.9L1293.8,1229.3L1281.8,1232.1L1275.8,1231.9L1271.8,1230.7L1265.5,1228L1249.8,1218.2L1239.8,1214.2L1236.6,1212L1233.8,1209.1L1223.1,1192L1220.3,1186L1219.3,1180L1220.7,1168L1220.3,1154L1221.3,1146L1225.1,1134L1227.2,1130L1230.5,1126L1239.9,1118L1247.8,1113.1L1265.8,1106.5L1295.8,1094.5L1301.8,1093ZM1559.8,1220L1567.8,1219.1L1575.8,1219.4L1581.8,1220.9L1585.8,1223.2L1593.8,1230.7L1600.1,1238L1603.3,1244L1604.6,1250L1604.9,1260L1603.9,1266L1599.9,1278L1595.6,1286L1590.6,1292L1585.8,1295.6L1577.8,1299.5L1569.8,1301.5L1561.8,1301.8L1557.8,1301.3L1553.8,1300.1L1547.8,1297L1541.8,1292L1533.8,1282.3L1530.5,1276L1528.6,1270L1524.9,1252L1525.1,1246L1526.8,1238L1528.2,1234L1530.9,1230L1535.8,1226.4L1539.8,1224.6L1545.8,1222.9ZM1245.3,1404L1263.8,1403.1L1267.8,1403.9L1273.8,1407L1283.8,1415.1L1287.8,1419.5L1292.5,1428L1294.7,1436L1294.6,1446L1292.9,1456L1289.8,1463.3L1283.8,1474L1279.8,1478.4L1275.8,1480.9L1269.8,1482.8L1257.8,1484.6L1251.8,1485.2L1247.8,1484.7L1229.8,1480.1L1221.8,1476.5L1217.8,1473.8L1212.8,1468L1210.8,1464L1209.3,1458L1207.4,1444L1207.7,1438L1209.3,1434L1216.7,1420L1218.2,1418L1221.8,1414.7L1231.8,1408.4L1239.8,1404.8ZM1323.8,1096L1335.8,1095.6L1345.8,1096.6L1367.8,1101.8L1373.4,1104L1376.8,1106L1388.5,1116L1390.3,1118L1392.6,1122L1394.4,1128L1396.3,1138L1396.9,1144L1396.6,1148L1394.9,1154L1392.5,1160L1388.5,1168L1385.8,1172.1L1381.8,1175.9L1375.6,1180L1367.8,1186L1357.8,1192.1L1347.8,1202L1343.6,1204L1323.8,1209.9L1307.8,1218.9L1305.8,1219.6L1301.8,1220L1283.8,1219.5L1279.8,1218.8L1273.8,1216.6L1261.8,1211.4L1252.5,1204L1241.8,1197.8L1237.8,1194L1231.2,1186L1229.8,1183.6L1228.6,1180L1228.1,1160L1229.9,1146L1233.1,1134L1236.3,1128L1242.3,1122L1250.9,1116L1275.8,1105.2L1295.8,1098L1303.8,1096.6ZM1556.7,1226L1563.8,1224.7L1569.8,1224.5L1575.8,1225.2L1581.8,1227.4L1587.8,1231.9L1593.3,1238L1596.9,1244L1598.3,1248L1599.2,1256L1598.7,1262L1596.3,1270L1591,1282L1587.8,1286.5L1583.8,1290.2L1577.8,1293.8L1572.3,1296L1567.8,1297.1L1561.8,1297.2L1556.9,1296L1551.8,1293.2L1546.3,1288L1538.1,1278L1535,1272L1533.2,1266L1531.3,1254L1531.1,1250L1532.1,1244L1534.4,1238L1537.3,1234L1541.8,1230.7L1547.8,1228.4ZM1242,1412L1245.8,1411.5L1261.8,1411.2L1265.8,1411.9L1269.8,1413.4L1275.8,1417L1282.2,1422L1285.8,1426.4L1288.4,1432L1289.5,1438L1289.6,1448L1288.7,1454L1286.4,1460L1281.4,1468L1275.8,1474L1269.8,1476.9L1263.8,1478L1255.8,1478.9L1249.8,1478.8L1239.8,1476.8L1233.8,1474.9L1229.8,1472.4L1227.3,1470L1222.2,1464L1219.8,1459.4L1217.2,1448L1216.5,1442L1217.6,1436L1220.6,1428L1224.6,1422L1229.3,1418L1235.8,1414.2ZM1293.4,1102L1299.8,1100.6L1305.8,1100.2L1319.8,1101.5L1337.8,1101.3L1349.8,1102.5L1359.8,1104.8L1367.8,1108.4L1371.8,1111.2L1374.8,1114L1384.3,1126L1386.6,1130L1388,1134L1389,1142L1387.8,1152L1385.9,1158L1384.1,1162L1379.7,1168L1372.9,1174L1365.8,1179.2L1352,1186L1335.8,1196.6L1331.8,1198.5L1321.8,1201.9L1311.8,1208.2L1307.8,1209.9L1303.8,1210.9L1295.8,1210.7L1283.8,1209.4L1277.8,1208.2L1267.8,1203.9L1257.4,1196L1245.1,1190L1241.1,1186L1238.7,1182L1237.2,1178L1234.9,1166L1234.9,1158L1236.7,1144L1238,1138L1240.2,1132L1242.8,1128L1246.6,1124L1251.4,1120L1259.8,1114.9L1275.8,1107.9ZM1557.9,1230L1563.8,1228.8L1569.8,1228.7L1575.8,1229.8L1579.8,1231.4L1583.8,1234.1L1589.1,1240L1591.4,1244L1593.5,1250L1594.3,1256L1593.8,1262L1592,1268L1587.7,1278L1585.1,1282L1581.8,1285.4L1577.8,1288.2L1571.8,1291L1565.8,1292.5L1561.8,1292.4L1557.8,1291.1L1553.8,1288.6L1549.2,1284L1541.2,1274L1539.1,1270L1537.3,1264L1536.1,1252L1537.1,1246L1538.8,1242L1541.7,1238L1545.8,1234.9L1551.8,1232.1ZM1243.8,1418L1249.8,1417L1257.8,1416.5L1261.8,1416.8L1265.8,1417.7L1271.8,1420.7L1277.8,1425.1L1281.8,1429.4L1283.8,1433.3L1285.1,1438L1285.7,1446L1285,1452L1283.8,1456L1280.5,1462L1275.8,1467.8L1271.8,1470.9L1265.8,1473.1L1259.8,1473.9L1251.8,1473.9L1245.8,1472.9L1239.8,1471L1235.8,1468.4L1233.6,1466L1229.4,1460L1226.4,1454L1224.6,1448L1223.8,1442L1224.2,1438L1226,1432L1228.2,1428L1231.8,1423.9L1237.8,1420.1ZM1300.2,1104L1307.8,1104.1L1319.8,1106.9L1323.8,1107.3L1347.8,1107.2L1353.8,1108.1L1357.8,1109.4L1361.8,1111.3L1365.8,1114L1372.1,1120L1375.3,1124L1378.9,1130L1380.7,1134L1381.7,1138L1382.1,1142L1381.9,1146L1379.8,1154.8L1375.8,1162L1369.8,1168.8L1363.8,1173.2L1355.8,1176.6L1337.8,1185.4L1327,1192L1317.8,1196.5L1307.8,1202L1301.8,1203.4L1297.8,1203.2L1287.8,1200.9L1277.8,1199.8L1271.8,1198.2L1267.8,1196L1259.8,1189.6L1249.8,1184.1L1247.8,1182.3L1245.2,1178L1241.4,1166L1241,1158L1241.7,1146L1242.6,1140L1245.5,1132L1249.9,1126L1254.1,1122L1257.8,1119.3L1269.8,1112.9L1275.8,1110.5L1285.8,1107.3L1293.8,1105.1ZM1566.8,1232L1571.8,1232.4L1575.8,1233.5L1579.8,1235.6L1583.8,1239.1L1587.1,1244L1588.7,1248L1590.1,1254L1590.2,1258L1589.2,1264L1587.1,1270L1584.1,1276L1581.8,1279.3L1577.8,1282.9L1573.8,1285.2L1569.8,1286.7L1565.8,1287.5L1561.8,1287.3L1559.8,1286.7L1555.8,1284.4L1551.8,1280.7L1546,1274L1543.4,1270L1541.7,1266L1540.4,1260L1540.2,1254L1540.7,1250L1542.1,1246L1543.8,1243.1L1546.7,1240L1551.8,1236.5L1555.8,1234.5L1561.8,1232.5ZM1249.7,1422L1255.8,1421L1259.8,1421L1263.8,1421.7L1267.8,1423.5L1271.8,1426.1L1276.4,1430L1279.5,1434L1281.2,1438L1281.9,1442L1282,1448L1280.6,1454L1278.7,1458L1275.8,1462.3L1271.8,1466.2L1267.8,1468.5L1263.8,1469.6L1257.8,1470.1L1251.8,1469.7L1245.8,1468.2L1241.8,1466.3L1239,1464L1235.7,1460L1233.3,1456L1230.9,1450L1229.9,1444L1230.1,1440L1231.3,1436L1233.5,1432L1235.8,1429.2L1239.9,1426L1243.8,1424ZM1295.3,1108L1301.8,1107.4L1305.8,1107.7L1309.8,1108.5L1319.8,1112L1327.8,1113.4L1333.8,1113.5L1347.8,1112.6L1351.8,1113L1355.8,1114.1L1361.8,1117.2L1367.8,1122.2L1372.4,1128L1375.4,1134L1376.5,1138L1376.9,1142L1376.2,1148L1373.7,1154L1367.8,1161.8L1365.5,1164L1361.8,1166.5L1349.8,1171.5L1321.8,1187.5L1309.8,1192.5L1299.8,1194.8L1295.8,1194.8L1277.8,1192.8L1273.8,1191.9L1267.8,1188.3L1253.8,1176L1250.7,1172L1247.7,1166L1246.6,1162L1246.1,1158L1246,1148L1246.4,1142L1248.8,1134L1252.5,1128L1256.3,1124L1259.8,1121.2L1269.8,1115.4L1275.8,1112.8L1281.8,1111ZM1559.8,1236L1563.8,1234.9L1569.8,1234.9L1573.8,1235.9L1577.8,1237.8L1580.5,1240L1583.5,1244L1585.4,1248L1586.4,1252L1586.8,1256L1586.2,1262L1585.1,1266L1582.4,1272L1579.8,1275.8L1577.6,1278L1573.8,1280.6L1569.8,1282.2L1565.8,1283L1561.8,1282.6L1557.8,1280.9L1555.8,1279.5L1551.8,1275.7L1547.2,1270L1545.2,1266L1544,1262L1543.5,1258L1543.7,1254L1544.6,1250L1546.5,1246L1548,1244L1552.3,1240L1555.8,1237.7ZM1252.1,1426L1255.8,1425.2L1259.8,1425.2L1265.8,1427.1L1269.8,1429.6L1273.8,1433L1276.3,1436L1278.1,1440L1278.8,1444L1278.7,1448L1277.8,1452L1275.8,1456.5L1273.3,1460L1269.8,1463.5L1265.8,1465.6L1261.8,1466.5L1255.8,1466.7L1251.8,1466.2L1247.8,1465L1243.8,1462.8L1239.2,1458L1236.9,1454L1235.6,1450L1234.9,1446L1235.2,1442L1236.4,1438L1237.6,1436L1239.8,1433.2L1243.8,1429.9L1247.8,1427.6ZM1286.7,1112L1295.8,1111L1305.8,1111.6L1311.8,1113.5L1323.8,1118.7L1327.8,1119.8L1331.8,1119.8L1341.8,1118.1L1351.8,1118.2L1357.8,1120L1363.8,1124.1L1366,1126L1369.8,1131.6L1371.8,1135.9L1372.3,1138L1372.4,1144L1371.8,1146.9L1370.3,1150L1366,1156L1360.6,1160L1357.8,1161.5L1351.8,1163.2L1343.8,1164.5L1339.8,1166L1332.1,1174L1326.4,1178L1315.8,1183.6L1309.8,1185.7L1301.8,1187.8L1293.8,1188.7L1281.8,1187.7L1275.8,1186.4L1269.8,1183.1L1259.8,1174.7L1253.8,1167.4L1250.6,1160L1249.8,1156L1249.4,1150L1250.3,1140L1251.6,1136L1253.6,1132L1258.3,1126L1263,1122L1267.8,1118.8L1275.8,1115ZM1560,1238L1563.8,1237L1567.8,1236.9L1573.8,1238.4L1576.6,1240L1579.8,1243.1L1581.7,1246L1583.2,1250L1583.8,1254L1583.7,1260L1583,1264L1581.8,1267.2L1579.8,1270.9L1577.8,1273.4L1573.8,1276.6L1570.8,1278L1567.8,1278.9L1563.8,1279L1559.8,1277.9L1557.8,1276.8L1553.8,1273.7L1550.5,1270L1548.1,1266L1546.8,1262L1546.2,1258L1546.4,1254L1548.5,1248L1549.8,1245.8L1553.4,1242L1556,1240ZM1252.9,1430L1255.8,1429.3L1259.8,1429.2L1265.8,1431.4L1269.8,1433.9L1272,1436L1273.8,1438.4L1275.3,1442L1275.7,1448L1275,1452L1274.1,1454L1269.3,1460L1266.7,1462L1263.8,1463.3L1259.8,1463.9L1253.8,1463.7L1247.8,1461.8L1245,1460L1243,1458L1239.8,1452L1239,1448L1239.1,1444L1240.3,1440L1241.5,1438L1245.8,1433.5L1249.8,1431.1ZM1287.3,1114L1295.8,1113.7L1303.8,1115L1309.8,1117L1313.8,1118.9L1318.5,1122L1320.6,1124L1321.8,1126L1322.4,1128L1321.4,1134L1319.8,1138L1319.9,1144L1321.8,1148.7L1325.4,1154L1327.1,1158L1327.9,1162L1327.2,1166L1323.8,1171L1317.3,1176L1309.5,1180L1299.8,1182.9L1291.8,1183.5L1281.8,1182.8L1277.8,1181.8L1271.8,1178.9L1264.5,1174L1258.7,1168L1255.1,1162L1253,1156L1252.6,1148L1253.4,1140L1255.8,1134.3L1258.5,1130L1264.4,1124L1269.8,1120L1277.8,1116.4ZM1560.6,1240L1565.8,1239.2L1571.4,1240L1575.1,1242L1577.2,1244L1579.8,1248L1580.5,1250L1581.1,1258L1580.8,1262L1579.8,1265.7L1577.8,1269.2L1575.8,1271.4L1572,1274L1569.8,1274.9L1565.8,1275.4L1561.8,1275L1556.1,1272L1551.8,1267.4L1549,1260L1549.1,1254L1551.2,1248L1555.8,1242.9ZM1252.3,1434L1257.8,1432.8L1259.8,1433L1265.8,1435.1L1269.5,1438L1272,1442L1272.9,1446L1272.3,1452L1267.8,1457.6L1263.8,1460.5L1257.8,1461.2L1251.8,1460.7L1246.7,1458L1243.7,1454L1242.9,1452L1242.4,1448L1242.7,1444L1243.4,1442L1245.8,1438L1247.8,1436.1Z" fill="none" stroke="#545454" stroke-width="2.1" stroke-linejoin="round"/>
<path d="M1613.8,1360h0M1390.8,1574h0M1104.8,1482h0M1119.8,1173h0M1689.8,1116h0M1562.8,1437h0M1150.8,1080h0M1686.8,1260h0M1543.8,1412h0M1145.8,1277h0M1401.8,1000h0M1321.8,1545h0M1188.8,1546h0M1697.8,1189h0M1398.8,1403h0M1304.8,1595h0M1339.8,1525h0M1567.8,1015h0M1678.8,1184h0M1124.8,1178h0M1339.8,1514h0M1385.8,1415h0M1183.8,1042h0M1271.8,1000h0M1298.8,1572h0M1182.8,1063h0M1116.8,1285h0M1718.8,1226h0M1417.8,1537h0M1191.8,1290h0M1368.8,1517h0M1095.8,1454h0M1217.8,1047h0M1540.8,1405h0M1199.8,1054h0M1577.8,1022h0M1106.8,1519h0M1173.8,1319h0M1167.8,1077h0M1649.8,1381h0M1618.8,1402h0M1092.8,1487h0M1118.8,1425h0M1140.8,1388h0M1621.8,1086h0M1690.8,1133h0M1156.8,1352h0M1174.8,1264h0M1172.8,1334h0M1291.8,1579h0M1323.8,1554h0M1136.8,1352h0M1350.8,1513h0M1148.8,1517h0M1089.8,1126h0M1556.8,1023h0M1179.8,1320h0M1414.8,1542h0M1193.8,1068h0M1126.8,1125h0M1306.8,1562h0M1585.8,1053h0M1382.8,1561h0M1647.8,1128h0M1125.8,1412h0M1255.8,1577h0M1118.8,1147h0M1143.8,1308h0M1308.8,1590h0M1667.8,1132h0M1678.8,1099h0M1475.8,1438h0M1335.8,1525h0M1182.8,1310h0M1262.8,1036h0M1386.8,1414h0M1236.8,1026h0M1488.8,1010h0M1133.8,1226h0M1315.8,1556h0M1362.8,1501h0M1178.8,1254h0M1268.8,1031h0M1194.8,1052h0M1154.8,1372h0M1150.8,1353h0M1164.8,1350h0M1186.8,1052h0M1145.8,1497h0M1513.8,1405h0M1358.8,1477h0M1173.8,1315h0M1205.8,1021h0M1559.8,1407h0M1162.8,1296h0M1352.8,1001h0M1288.8,1009h0M1655.8,1282h0M1318.8,1542h0M1150.8,1294h0M1521.8,1420h0M1649.8,1394h0M1123.8,1133h0M1131.8,1185h0M1260.8,1001h0M1570.8,1053h0M1088.8,1369h0M1116.8,1422h0M1198.8,1066h0M1381.8,1440h0M1565.8,1408h0M1254.8,1584h0M1337.8,1524h0M1148.8,1361h0M1116.8,1408h0M1255.8,1027h0M1367.8,1578h0M1230.8,1551h0M1669.8,1388h0M1093.8,1173h0M1427.8,1419h0M1175.8,1281h0M1459.8,1415h0M1129.8,1264h0M1100.8,1191h0M1174.8,1265h0M1352.8,1527h0M1348.8,1522h0M1103.8,1176h0M1146.8,1221h0M1150.8,1335h0M1192.8,1254h0M1159.8,1213h0M1655.8,1368h0M1197.8,1034h0M1489.8,1004h0M1113.8,1094h0M1285.8,1583h0M1127.8,1479h0M1159.8,1363h0M1210.8,1049h0M1191.8,1622h0M1353.8,1547h0M1343.8,1581h0M1096.8,1393h0M1705.8,1187h0M1093.8,1091h0M1133.8,1491h0M1597.8,1073h0M1408.8,1407h0" fill="none" stroke="#2a2a2a" stroke-width="3.3" stroke-linecap="round"/>
<rect x="1065.8" y="960" width="672.2" height="672" fill="none" stroke="#222" stroke-width="2.7"/>
<line x1="1065.8" y1="1292.1" x2="1738" y2="1292.1" stroke="#000" stroke-width="4.6"/>
<line x1="1376.8" y1="960" x2="1376.8" y2="1634" stroke="#000" stroke-width="4.6"/>
<line x1="1045.8" y1="1026.8" x2="1065.8" y2="1026.8" stroke="#000" stroke-width="4.6"/>
<line x1="1045.8" y1="1161" x2="1065.8" y2="1161" stroke="#000" stroke-width="4.6"/>
<line x1="1045.8" y1="1294.8" x2="1065.8" y2="1294.8" stroke="#000" stroke-width="4.6"/>
<line x1="1045.8" y1="1428.6" x2="1065.8" y2="1428.6" stroke="#000" stroke-width="4.6"/>
<line x1="1045.8" y1="1562.4" x2="1065.8" y2="1562.4" stroke="#000" stroke-width="4.6"/>
<line x1="1056.3" y1="989.5" x2="1065.8" y2="989.5" stroke="#000" stroke-width="2.4"/>
<line x1="1056.3" y1="965.9" x2="1065.8" y2="965.9" stroke="#000" stroke-width="2.4"/>
<line x1="1056.3" y1="1123.6" x2="1065.8" y2="1123.6" stroke="#000" stroke-width="2.4"/>
<line x1="1056.3" y1="1100" x2="1065.8" y2="1100" stroke="#000" stroke-width="2.4"/>
<line x1="1056.3" y1="1083.2" x2="1065.8" y2="1083.2" stroke="#000" stroke-width="2.4"/>
<line x1="1050.8" y1="1070.2" x2="1065.8" y2="1070.2" stroke="#000" stroke-width="2.4"/>
<line x1="1056.3" y1="1059.6" x2="1065.8" y2="1059.6" stroke="#000" stroke-width="2.4"/>
<line x1="1056.3" y1="1050.6" x2="1065.8" y2="1050.6" stroke="#000" stroke-width="2.4"/>
<line x1="1056.3" y1="1042.8" x2="1065.8" y2="1042.8" stroke="#000" stroke-width="2.4"/>
<line x1="1056.3" y1="1035.9" x2="1065.8" y2="1035.9" stroke="#000" stroke-width="2.4"/>
<line x1="1056.3" y1="1257.5" x2="1065.8" y2="1257.5" stroke="#000" stroke-width="2.4"/>
<line x1="1056.3" y1="1234" x2="1065.8" y2="1234" stroke="#000" stroke-width="2.4"/>
<line x1="1056.3" y1="1217.2" x2="1065.8" y2="1217.2" stroke="#000" stroke-width="2.4"/>
<line x1="1050.8" y1="1204.3" x2="1065.8" y2="1204.3" stroke="#000" stroke-width="2.4"/>
<line x1="1056.3" y1="1193.7" x2="1065.8" y2="1193.7" stroke="#000" stroke-width="2.4"/>
<line x1="1056.3" y1="1184.7" x2="1065.8" y2="1184.7" stroke="#000" stroke-width="2.4"/>
<line x1="1056.3" y1="1177" x2="1065.8" y2="1177" stroke="#000" stroke-width="2.4"/>
<line x1="1056.3" y1="1170.1" x2="1065.8" y2="1170.1" stroke="#000" stroke-width="2.4"/>
<line x1="1056.3" y1="1391.3" x2="1065.8" y2="1391.3" stroke="#000" stroke-width="2.4"/>
<line x1="1056.3" y1="1367.8" x2="1065.8" y2="1367.8" stroke="#000" stroke-width="2.4"/>
<line x1="1056.3" y1="1351" x2="1065.8" y2="1351" stroke="#000" stroke-width="2.4"/>
<line x1="1050.8" y1="1338.1" x2="1065.8" y2="1338.1" stroke="#000" stroke-width="2.4"/>
<line x1="1056.3" y1="1327.5" x2="1065.8" y2="1327.5" stroke="#000" stroke-width="2.4"/>
<line x1="1056.3" y1="1318.5" x2="1065.8" y2="1318.5" stroke="#000" stroke-width="2.4"/>
<line x1="1056.3" y1="1310.8" x2="1065.8" y2="1310.8" stroke="#000" stroke-width="2.4"/>
<line x1="1056.3" y1="1303.9" x2="1065.8" y2="1303.9" stroke="#000" stroke-width="2.4"/>
<line x1="1056.3" y1="1525.1" x2="1065.8" y2="1525.1" stroke="#000" stroke-width="2.4"/>
<line x1="1056.3" y1="1501.6" x2="1065.8" y2="1501.6" stroke="#000" stroke-width="2.4"/>
<line x1="1056.3" y1="1484.8" x2="1065.8" y2="1484.8" stroke="#000" stroke-width="2.4"/>
<line x1="1050.8" y1="1471.9" x2="1065.8" y2="1471.9" stroke="#000" stroke-width="2.4"/>
<line x1="1056.3" y1="1461.3" x2="1065.8" y2="1461.3" stroke="#000" stroke-width="2.4"/>
<line x1="1056.3" y1="1452.3" x2="1065.8" y2="1452.3" stroke="#000" stroke-width="2.4"/>
<line x1="1056.3" y1="1444.6" x2="1065.8" y2="1444.6" stroke="#000" stroke-width="2.4"/>
<line x1="1056.3" y1="1437.7" x2="1065.8" y2="1437.7" stroke="#000" stroke-width="2.4"/>
<line x1="1056.3" y1="1618.6" x2="1065.8" y2="1618.6" stroke="#000" stroke-width="2.4"/>
<line x1="1050.8" y1="1605.7" x2="1065.8" y2="1605.7" stroke="#000" stroke-width="2.4"/>
<line x1="1056.3" y1="1595.1" x2="1065.8" y2="1595.1" stroke="#000" stroke-width="2.4"/>
<line x1="1056.3" y1="1586.1" x2="1065.8" y2="1586.1" stroke="#000" stroke-width="2.4"/>
<line x1="1056.3" y1="1578.4" x2="1065.8" y2="1578.4" stroke="#000" stroke-width="2.4"/>
<line x1="1056.3" y1="1571.5" x2="1065.8" y2="1571.5" stroke="#000" stroke-width="2.4"/>
<text transform="translate(979.3 1035.3) scale(1 1.042)" font-size="42">10<tspan font-size="26.5" dy="-12.3" dx="-0.3">6</tspan></text>
<text transform="translate(979.3 1169.6) scale(1 1.042)" font-size="42">10<tspan font-size="26.5" dy="-12.3" dx="-0.3">5</tspan></text>
<text transform="translate(979.3 1306.6) scale(1 1.042)" font-size="42">10<tspan font-size="26.5" dy="-12.3" dx="-0.3">4</tspan></text>
<text transform="translate(979.3 1439.8) scale(1 1.042)" font-size="42">10<tspan font-size="26.5" dy="-12.3" dx="-0.3">3</tspan></text>
<text transform="translate(979.3 1578.4) scale(1 1.042)" font-size="42">10<tspan font-size="26.5" dy="-12.3" dx="-0.3">2</tspan></text>
<line x1="1067.1" y1="1632" x2="1067.1" y2="1649" stroke="#000" stroke-width="4.6"/>
<line x1="1116" y1="1632" x2="1116" y2="1642" stroke="#000" stroke-width="2.4"/>
<line x1="1144.6" y1="1632" x2="1144.6" y2="1642" stroke="#000" stroke-width="2.4"/>
<line x1="1164.9" y1="1632" x2="1164.9" y2="1642" stroke="#000" stroke-width="2.4"/>
<line x1="1180.6" y1="1632" x2="1180.6" y2="1645" stroke="#000" stroke-width="2.4"/>
<line x1="1193.5" y1="1632" x2="1193.5" y2="1642" stroke="#000" stroke-width="2.4"/>
<line x1="1204.3" y1="1632" x2="1204.3" y2="1642" stroke="#000" stroke-width="2.4"/>
<line x1="1213.8" y1="1632" x2="1213.8" y2="1642" stroke="#000" stroke-width="2.4"/>
<line x1="1222.1" y1="1632" x2="1222.1" y2="1642" stroke="#000" stroke-width="2.4"/>
<line x1="1229.5" y1="1632" x2="1229.5" y2="1649" stroke="#000" stroke-width="4.6"/>
<line x1="1280.1" y1="1632" x2="1280.1" y2="1642" stroke="#000" stroke-width="2.4"/>
<line x1="1309.8" y1="1632" x2="1309.8" y2="1642" stroke="#000" stroke-width="2.4"/>
<line x1="1330.8" y1="1632" x2="1330.8" y2="1642" stroke="#000" stroke-width="2.4"/>
<line x1="1347.1" y1="1632" x2="1347.1" y2="1645" stroke="#000" stroke-width="2.4"/>
<line x1="1360.4" y1="1632" x2="1360.4" y2="1642" stroke="#000" stroke-width="2.4"/>
<line x1="1371.6" y1="1632" x2="1371.6" y2="1642" stroke="#000" stroke-width="2.4"/>
<line x1="1381.4" y1="1632" x2="1381.4" y2="1642" stroke="#000" stroke-width="2.4"/>
<line x1="1390" y1="1632" x2="1390" y2="1642" stroke="#000" stroke-width="2.4"/>
<line x1="1397.7" y1="1632" x2="1397.7" y2="1649" stroke="#000" stroke-width="4.6"/>
<line x1="1447.5" y1="1632" x2="1447.5" y2="1642" stroke="#000" stroke-width="2.4"/>
<line x1="1476.7" y1="1632" x2="1476.7" y2="1642" stroke="#000" stroke-width="2.4"/>
<line x1="1497.3" y1="1632" x2="1497.3" y2="1642" stroke="#000" stroke-width="2.4"/>
<line x1="1513.4" y1="1632" x2="1513.4" y2="1645" stroke="#000" stroke-width="2.4"/>
<line x1="1526.5" y1="1632" x2="1526.5" y2="1642" stroke="#000" stroke-width="2.4"/>
<line x1="1537.6" y1="1632" x2="1537.6" y2="1642" stroke="#000" stroke-width="2.4"/>
<line x1="1547.2" y1="1632" x2="1547.2" y2="1642" stroke="#000" stroke-width="2.4"/>
<line x1="1555.6" y1="1632" x2="1555.6" y2="1642" stroke="#000" stroke-width="2.4"/>
<line x1="1563.2" y1="1632" x2="1563.2" y2="1649" stroke="#000" stroke-width="4.6"/>
<line x1="1613.8" y1="1632" x2="1613.8" y2="1642" stroke="#000" stroke-width="2.4"/>
<line x1="1643.5" y1="1632" x2="1643.5" y2="1642" stroke="#000" stroke-width="2.4"/>
<line x1="1664.5" y1="1632" x2="1664.5" y2="1642" stroke="#000" stroke-width="2.4"/>
<line x1="1680.8" y1="1632" x2="1680.8" y2="1645" stroke="#000" stroke-width="2.4"/>
<line x1="1694.1" y1="1632" x2="1694.1" y2="1642" stroke="#000" stroke-width="2.4"/>
<line x1="1705.3" y1="1632" x2="1705.3" y2="1642" stroke="#000" stroke-width="2.4"/>
<line x1="1715.1" y1="1632" x2="1715.1" y2="1642" stroke="#000" stroke-width="2.4"/>
<line x1="1723.7" y1="1632" x2="1723.7" y2="1642" stroke="#000" stroke-width="2.4"/>
<line x1="1731.4" y1="1632" x2="1731.4" y2="1649" stroke="#000" stroke-width="4.6"/>
<text transform="translate(1030.5 1702.2) scale(1 1.042)" font-size="42">10<tspan font-size="26.5" dy="-12.3" dx="-0.3">1</tspan></text>
<text transform="translate(1198.2 1702.2) scale(1 1.042)" font-size="42">10<tspan font-size="26.5" dy="-12.3" dx="-0.3">2</tspan></text>
<text transform="translate(1362.8 1702.2) scale(1 1.042)" font-size="42">10<tspan font-size="26.5" dy="-12.3" dx="-0.3">3</tspan></text>
<text transform="translate(1532.9 1702.2) scale(1 1.042)" font-size="42">10<tspan font-size="26.5" dy="-12.3" dx="-0.3">4</tspan></text>
<text transform="translate(1700.7 1702.2) scale(1 1.042)" font-size="42">10<tspan font-size="26.5" dy="-12.3" dx="-0.3">5</tspan></text>
<text transform="translate(1074.5 1006) scale(1 1.042)" font-size="42">Q1</text>
<text transform="translate(1074.5 1057.2) scale(1 1.042)" font-size="42">37.1</text>
<text transform="translate(1725 1006) scale(1 1.042)" font-size="42" text-anchor="end">Q2</text>
<text transform="translate(1725 1057.2) scale(1 1.042)" font-size="42" text-anchor="end">27.5</text>
<text transform="translate(1074.5 1568.4) scale(1 1.042)" font-size="42">Q4</text>
<text transform="translate(1074.5 1620.4) scale(1 1.042)" font-size="42">25.6</text>
<text transform="translate(1725 1568.4) scale(1 1.042)" font-size="42" text-anchor="end">Q3</text>
<text transform="translate(1725 1620.4) scale(1 1.042)" font-size="42" text-anchor="end">9.72</text>
<text transform="translate(48.3 1338.6) rotate(-90) scale(1 1.042)" font-size="42" text-anchor="middle">Ly6C</text>
<text transform="translate(25.2 943) scale(1 1.035)" font-size="56" font-weight="bold">B</text>
<line x1="130.8" y1="1747.8" x2="1747.1" y2="1747.8" stroke="#000" stroke-width="7.4"/>
<text transform="translate(957.2 1814.6) scale(1 1.042)" font-size="42" text-anchor="middle">CD204</text>
<line x1="210.7" y1="1882.2" x2="210.7" y2="2293.8" stroke="#000" stroke-width="2.6"/>
<line x1="198.2" y1="2293.8" x2="578.2" y2="2293.8" stroke="#000" stroke-width="2.6"/>
<line x1="198.2" y1="1883.5" x2="210.7" y2="1883.5" stroke="#000" stroke-width="2.6"/>
<line x1="198.2" y1="2019.9" x2="210.7" y2="2019.9" stroke="#000" stroke-width="2.6"/>
<line x1="198.2" y1="2156.5" x2="210.7" y2="2156.5" stroke="#000" stroke-width="2.6"/>
<text transform="translate(173.7 1896.1) scale(1 1.042)" font-size="42" text-anchor="end">110</text>
<text transform="translate(173.7 2032.5) scale(1 1.042)" font-size="42" text-anchor="end">90</text>
<text transform="translate(173.7 2169.1) scale(1 1.042)" font-size="42" text-anchor="end">70</text>
<text transform="translate(173.7 2306.4) scale(1 1.042)" font-size="42" text-anchor="end">50</text>
<rect x="273.5" y="1951.5" width="57.9" height="342.3" fill="#fff" stroke="#000" stroke-width="2.6"/>
<rect x="456.9" y="2096.7" width="58.8" height="198.1" fill="#000"/>
<line x1="486.7" y1="2077.8" x2="486.7" y2="2096.7" stroke="#000" stroke-width="2.4"/>
<line x1="478.2" y1="2077.8" x2="495.2" y2="2077.8" stroke="#000" stroke-width="2.4"/>
<text transform="translate(486.4 2065) scale(1 1.05)" font-size="52.5" text-anchor="middle" font-weight="bold">**</text>
<text transform="translate(86 2090.5) rotate(-90) scale(1 1.1)" font-size="41.1" text-anchor="middle">% PD-L1</text>
<text transform="translate(33 1878) scale(1 1.03)" font-size="55.5" font-weight="bold">C</text>
<line x1="799.4" y1="1882.2" x2="799.4" y2="2293.8" stroke="#000" stroke-width="2.6"/>
<line x1="786.9" y1="2293.8" x2="1166.6" y2="2293.8" stroke="#000" stroke-width="2.6"/>
<line x1="786.9" y1="1883.5" x2="799.4" y2="1883.5" stroke="#000" stroke-width="2.6"/>
<line x1="786.9" y1="1985.9" x2="799.4" y2="1985.9" stroke="#000" stroke-width="2.6"/>
<line x1="786.9" y1="2088.3" x2="799.4" y2="2088.3" stroke="#000" stroke-width="2.6"/>
<line x1="786.9" y1="2190.8" x2="799.4" y2="2190.8" stroke="#000" stroke-width="2.6"/>
<text transform="translate(762.4 1896.1) scale(1 1.042)" font-size="42" text-anchor="end">120</text>
<text transform="translate(762.4 1998.5) scale(1 1.042)" font-size="42" text-anchor="end">110</text>
<text transform="translate(762.4 2100.9) scale(1 1.042)" font-size="42" text-anchor="end">100</text>
<text transform="translate(762.4 2203.4) scale(1 1.042)" font-size="42" text-anchor="end">90</text>
<text transform="translate(762.4 2306.4) scale(1 1.042)" font-size="42" text-anchor="end">80</text>
<rect x="861.5" y="2088.8" width="58.7" height="205" fill="#fff" stroke="#000" stroke-width="2.6"/>
<rect x="1044.9" y="1986.3" width="59.9" height="308.5" fill="#000"/>
<line x1="1074.7" y1="1940.9" x2="1074.7" y2="1986.3" stroke="#000" stroke-width="2.4"/>
<line x1="1066.2" y1="1940.9" x2="1083.2" y2="1940.9" stroke="#000" stroke-width="2.4"/>
<text transform="translate(1072.7 1931.5) scale(1 1.05)" font-size="52.5" text-anchor="middle" font-weight="bold">**</text>
<text transform="translate(674 2088) rotate(-90) scale(1 1.042)" font-size="42" text-anchor="middle">% Ly6C</text>
<text transform="translate(634 1878) scale(1 1.03)" font-size="55.5" font-weight="bold">D</text>
<line x1="1400.6" y1="1889.5" x2="1400.6" y2="2293.8" stroke="#000" stroke-width="2.6"/>
<line x1="1388.1" y1="2293.8" x2="1769" y2="2293.8" stroke="#000" stroke-width="2.6"/>
<line x1="1388.1" y1="1890.8" x2="1400.6" y2="1890.8" stroke="#000" stroke-width="2.6"/>
<line x1="1388.1" y1="2025.6" x2="1400.6" y2="2025.6" stroke="#000" stroke-width="2.6"/>
<line x1="1388.1" y1="2159.5" x2="1400.6" y2="2159.5" stroke="#000" stroke-width="2.6"/>
<text transform="translate(1363.6 1903.4) scale(1 1.042)" font-size="42" text-anchor="end">110</text>
<text transform="translate(1363.6 2038.2) scale(1 1.042)" font-size="42" text-anchor="end">100</text>
<text transform="translate(1363.6 2172.1) scale(1 1.042)" font-size="42" text-anchor="end">90</text>
<text transform="translate(1363.6 2306.4) scale(1 1.042)" font-size="42" text-anchor="end">80</text>
<rect x="1463.5" y="2026.3" width="58.3" height="267.5" fill="#fff" stroke="#000" stroke-width="2.6"/>
<rect x="1646.9" y="2131.6" width="59.5" height="163.2" fill="#000"/>
<line x1="1676.7" y1="2092.3" x2="1676.7" y2="2131.6" stroke="#4d4d4d" stroke-width="2.4"/>
<line x1="1668.2" y1="2092.3" x2="1685.2" y2="2092.3" stroke="#4d4d4d" stroke-width="2.4"/>
<text transform="translate(1676.7 2086) scale(1 1.05)" font-size="52.5" text-anchor="middle" font-weight="bold">*</text>
<text transform="translate(1276 2093) rotate(-90) scale(1 1.042)" font-size="42" text-anchor="middle">% CD204</text>
<text transform="translate(1231 1878) scale(1 1.03)" font-size="55.5" font-weight="bold">E</text>
<rect x="683.6" y="2380.6" width="27.4" height="27.4" fill="#fff" stroke="#000" stroke-width="3.2"/>
<text transform="translate(738.5 2409.3) scale(1 1.042)" font-size="42">Ctl</text>
<rect x="867.8" y="2379" width="30.5" height="30.5" fill="#000"/>
<text transform="translate(925 2409.3) scale(1 1.042)" font-size="42">g82/165+HDR</text>
</svg>
</body>
</html>
